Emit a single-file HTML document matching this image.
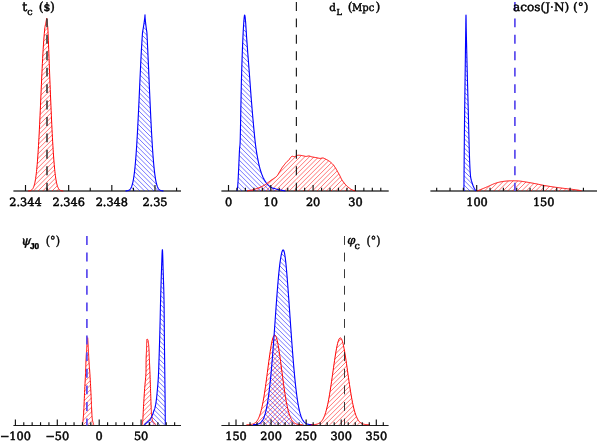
<!DOCTYPE html>
<html><head><meta charset="utf-8"><title>posterior PDFs</title>
<style>
html,body{margin:0;padding:0;background:#fff;}
svg{display:block;will-change:transform;font-family:"DejaVu Serif","Liberation Serif",serif;fill:#000;}
text{stroke:#000;stroke-width:0.5px;text-rendering:geometricPrecision;}
.tt text{stroke-width:0.42px;}
</style></head>
<body>
<svg width="598" height="441" viewBox="0 0 598 441">
<defs>
<clipPath id="cr"><path d="M28.10,190.94 L28.32,190.93 L28.54,190.91 L28.76,190.90 L28.99,190.87 L29.21,190.85 L29.43,190.81 L29.65,190.78 L29.87,190.73 L30.09,190.68 L30.31,190.62 L30.54,190.55 L30.76,190.46 L30.98,190.36 L31.20,190.24 L31.42,190.11 L31.64,189.95 L31.86,189.77 L32.08,189.56 L32.31,189.32 L32.53,189.04 L32.75,188.73 L32.97,188.37 L33.19,187.96 L33.41,187.50 L33.63,186.98 L33.86,186.39 L34.08,185.73 L34.30,184.98 L34.52,184.15 L34.74,183.23 L34.96,182.21 L35.18,181.07 L35.41,179.81 L35.63,178.43 L35.85,176.92 L36.07,175.26 L36.29,173.45 L36.51,171.48 L36.73,169.34 L36.96,167.03 L37.18,164.55 L37.40,161.88 L37.62,159.02 L37.84,155.96 L38.06,152.72 L38.28,149.28 L38.51,145.64 L38.73,141.81 L38.95,137.80 L39.17,133.60 L39.39,129.23 L39.61,124.69 L39.84,120.00 L40.06,115.17 L40.28,110.22 L40.50,105.16 L40.73,100.01 L40.96,94.80 L41.18,89.55 L41.42,84.28 L41.65,79.02 L41.89,73.80 L42.13,68.64 L42.38,63.58 L42.64,58.65 L42.90,53.88 L43.17,49.29 L43.45,44.92 L43.73,40.79 L44.02,36.94 L44.32,33.39 L44.62,30.17 L44.91,27.29 L44.95,26.94 L45.09,26.32 L45.22,25.70 L45.35,25.08 L45.48,24.47 L45.61,23.85 L45.74,23.23 L45.86,22.62 L45.98,22.00 L46.11,21.38 L46.23,20.77 L46.34,20.15 L46.45,19.53 L46.56,18.92 L46.65,18.30 L46.65,18.30 L46.69,18.92 L46.75,19.53 L46.82,20.15 L46.89,20.77 L46.97,21.38 L47.05,22.00 L47.13,22.62 L47.22,23.23 L47.30,23.85 L47.39,24.47 L47.49,25.08 L47.58,25.70 L47.68,26.32 L47.77,26.94 L47.79,27.29 L47.94,30.17 L48.08,33.39 L48.23,36.94 L48.38,40.79 L48.54,44.92 L48.71,49.29 L48.88,53.88 L49.06,58.65 L49.24,63.58 L49.44,68.64 L49.64,73.80 L49.84,79.02 L50.05,84.28 L50.26,89.55 L50.48,94.80 L50.69,100.01 L50.91,105.16 L51.13,110.22 L51.35,115.17 L51.57,120.00 L51.79,124.69 L52.01,129.23 L52.23,133.60 L52.45,137.80 L52.67,141.81 L52.90,145.64 L53.12,149.28 L53.34,152.72 L53.56,155.96 L53.78,159.02 L54.00,161.88 L54.22,164.55 L54.44,167.03 L54.67,169.34 L54.89,171.48 L55.11,173.45 L55.33,175.26 L55.55,176.92 L55.77,178.43 L55.99,179.81 L56.22,181.07 L56.44,182.21 L56.66,183.23 L56.88,184.15 L57.10,184.98 L57.32,185.73 L57.54,186.39 L57.77,186.98 L57.99,187.50 L58.21,187.96 L58.43,188.37 L58.65,188.73 L58.87,189.04 L59.09,189.32 L59.32,189.56 L59.54,189.77 L59.76,189.95 L59.98,190.11 L60.20,190.24 L60.42,190.36 L60.64,190.46 L60.86,190.55 L61.09,190.62 L61.31,190.68 L61.53,190.73 L61.75,190.78 L61.97,190.81 L62.19,190.85 L62.41,190.87 L62.64,190.90 L62.86,190.91 L63.08,190.93 L63.30,190.94 L63.30,191.00 L28.10,191.00 Z"/>
<path d="M247.00,191.00 L247.64,190.88 L248.54,190.71 L249.59,190.51 L250.67,190.29 L251.67,190.08 L252.51,189.87 L253.27,189.67 L254.00,189.45 L254.71,189.23 L255.43,188.99 L256.19,188.74 L256.99,188.46 L257.80,188.17 L258.62,187.87 L259.43,187.56 L260.20,187.24 L260.94,186.92 L261.65,186.60 L262.35,186.27 L263.03,185.93 L263.68,185.58 L264.29,185.23 L264.85,184.89 L265.38,184.55 L265.91,184.19 L266.46,183.79 L267.07,183.35 L267.76,182.83 L268.50,182.25 L269.26,181.65 L270.01,181.06 L270.72,180.53 L271.36,180.08 L271.96,179.70 L272.53,179.35 L273.08,179.01 L273.64,178.65 L274.20,178.26 L274.77,177.86 L275.35,177.46 L275.91,177.04 L276.46,176.56 L276.99,176.02 L277.48,175.38 L277.95,174.66 L278.40,173.90 L278.85,173.11 L279.31,172.32 L279.78,171.53 L280.26,170.72 L280.75,169.89 L281.23,169.07 L281.72,168.28 L282.20,167.55 L282.69,166.86 L283.19,166.20 L283.68,165.57 L284.16,164.97 L284.63,164.39 L285.08,163.83 L285.52,163.28 L285.96,162.76 L286.38,162.27 L286.79,161.82 L287.18,161.43 L287.55,161.11 L287.91,160.84 L288.26,160.58 L288.60,160.31 L288.93,159.97 L289.24,159.55 L289.54,159.08 L289.83,158.59 L290.11,158.12 L290.41,157.71 L290.71,157.36 L291.01,157.05 L291.31,156.77 L291.62,156.54 L291.96,156.37 L292.32,156.28 L292.72,156.32 L293.13,156.44 L293.57,156.59 L294.01,156.70 L294.47,156.70 L294.95,156.56 L295.44,156.30 L295.95,156.00 L296.46,155.70 L296.98,155.47 L297.49,155.34 L298.00,155.27 L298.52,155.24 L299.04,155.24 L299.57,155.27 L300.10,155.31 L300.65,155.37 L301.21,155.46 L301.77,155.56 L302.33,155.67 L302.89,155.78 L303.45,155.89 L304.01,156.03 L304.57,156.17 L305.13,156.30 L305.68,156.38 L306.24,156.40 L306.80,156.33 L307.36,156.21 L307.91,156.09 L308.47,156.01 L309.03,156.00 L309.57,156.10 L310.10,156.26 L310.63,156.46 L311.19,156.66 L311.79,156.85 L312.45,157.00 L313.17,157.13 L313.93,157.25 L314.70,157.38 L315.47,157.51 L316.22,157.64 L316.99,157.81 L317.76,158.00 L318.52,158.17 L319.26,158.31 L319.95,158.40 L320.57,158.38 L321.14,158.28 L321.68,158.14 L322.21,158.02 L322.75,157.98 L323.30,158.06 L323.86,158.24 L324.42,158.48 L324.97,158.76 L325.53,159.06 L326.09,159.35 L326.66,159.64 L327.23,159.94 L327.80,160.26 L328.36,160.59 L328.89,160.93 L329.39,161.27 L329.88,161.63 L330.35,162.00 L330.80,162.38 L331.24,162.77 L331.67,163.16 L332.07,163.53 L332.45,163.89 L332.82,164.28 L333.21,164.71 L333.61,165.21 L334.05,165.80 L334.50,166.46 L334.96,167.16 L335.42,167.87 L335.85,168.56 L336.26,169.23 L336.64,169.87 L337.01,170.52 L337.37,171.16 L337.73,171.82 L338.10,172.48 L338.47,173.15 L338.84,173.83 L339.22,174.52 L339.59,175.21 L339.96,175.92 L340.31,176.64 L340.64,177.36 L340.98,178.09 L341.34,178.84 L341.76,179.61 L342.28,180.42 L342.88,181.30 L343.55,182.20 L344.25,183.10 L344.94,183.94 L345.58,184.69 L346.19,185.35 L346.79,185.94 L347.37,186.49 L347.96,186.99 L348.55,187.48 L349.16,187.96 L349.77,188.41 L350.38,188.84 L350.99,189.24 L351.61,189.60 L352.24,189.92 L352.95,190.21 L353.68,190.46 L354.38,190.69 L354.98,190.86 L355.40,191.00 L355.40,191.00 L247.00,191.00 Z"/>
<path d="M477.00,191.00 L477.20,190.92 L477.44,190.83 L477.71,190.72 L478.02,190.60 L478.35,190.46 L478.71,190.32 L479.08,190.17 L479.48,190.02 L479.88,189.86 L480.29,189.69 L480.70,189.53 L481.11,189.36 L481.52,189.20 L481.92,189.03 L482.31,188.87 L482.71,188.71 L483.11,188.54 L483.53,188.38 L483.95,188.20 L484.37,188.03 L484.80,187.85 L485.23,187.67 L485.66,187.49 L486.10,187.31 L486.53,187.13 L486.96,186.94 L487.39,186.76 L487.82,186.58 L488.24,186.39 L488.66,186.21 L489.09,186.01 L489.51,185.81 L489.93,185.61 L490.35,185.41 L490.77,185.21 L491.20,185.01 L491.62,184.82 L492.04,184.62 L492.46,184.43 L492.88,184.25 L493.31,184.07 L493.73,183.90 L494.15,183.74 L494.57,183.59 L494.98,183.44 L495.40,183.30 L495.81,183.16 L496.22,183.02 L496.63,182.89 L497.04,182.76 L497.46,182.64 L497.88,182.52 L498.30,182.41 L498.73,182.30 L499.17,182.19 L499.61,182.09 L500.07,181.99 L500.53,181.89 L501.01,181.80 L501.50,181.71 L502.00,181.63 L502.50,181.55 L503.01,181.47 L503.52,181.40 L504.03,181.33 L504.54,181.26 L505.04,181.20 L505.54,181.15 L506.02,181.10 L506.50,181.05 L506.97,181.00 L507.42,180.96 L507.86,180.93 L508.30,180.90 L508.73,180.88 L509.15,180.86 L509.57,180.84 L509.99,180.83 L510.40,180.82 L510.81,180.81 L511.22,180.81 L511.63,180.80 L512.05,180.80 L512.46,180.80 L512.88,180.80 L513.30,180.80 L513.72,180.80 L514.13,180.80 L514.54,180.80 L514.95,180.81 L515.36,180.81 L515.78,180.82 L516.19,180.83 L516.61,180.85 L517.03,180.86 L517.45,180.89 L517.88,180.91 L518.32,180.94 L518.77,180.98 L519.23,181.02 L519.69,181.07 L520.15,181.12 L520.61,181.18 L521.07,181.24 L521.54,181.30 L522.02,181.37 L522.50,181.44 L522.99,181.52 L523.49,181.59 L524.00,181.68 L524.52,181.76 L525.06,181.85 L525.60,181.94 L526.16,182.03 L526.74,182.12 L527.32,182.22 L527.92,182.32 L528.53,182.43 L529.16,182.53 L529.79,182.64 L530.43,182.76 L531.07,182.87 L531.73,182.99 L532.38,183.11 L533.05,183.23 L533.71,183.36 L534.38,183.48 L535.05,183.61 L535.72,183.74 L536.40,183.87 L537.09,184.01 L537.79,184.16 L538.49,184.30 L539.20,184.45 L539.91,184.59 L540.63,184.74 L541.34,184.89 L542.06,185.03 L542.77,185.18 L543.48,185.32 L544.19,185.45 L544.90,185.58 L545.60,185.71 L546.31,185.83 L547.01,185.95 L547.71,186.07 L548.42,186.19 L549.12,186.30 L549.82,186.42 L550.53,186.53 L551.23,186.64 L551.93,186.74 L552.64,186.85 L553.34,186.96 L554.05,187.06 L554.75,187.16 L555.45,187.27 L556.16,187.36 L556.86,187.46 L557.56,187.56 L558.27,187.65 L558.97,187.74 L559.67,187.83 L560.38,187.92 L561.08,188.01 L561.78,188.10 L562.49,188.19 L563.19,188.27 L563.89,188.36 L564.60,188.45 L565.30,188.54 L566.02,188.63 L566.75,188.71 L567.49,188.80 L568.23,188.89 L568.98,188.97 L569.72,189.06 L570.45,189.15 L571.18,189.23 L571.89,189.31 L572.59,189.40 L573.26,189.48 L573.91,189.56 L574.53,189.64 L575.12,189.72 L575.70,189.80 L576.27,189.88 L576.84,189.96 L577.38,190.04 L577.92,190.12 L578.43,190.20 L578.93,190.28 L579.39,190.36 L579.83,190.43 L580.24,190.50 L580.62,190.56 L580.95,190.61 L581.25,190.66 L581.50,190.70 L581.50,191.00 L477.00,191.00 Z"/>
<path d="M82.40,424.75 L82.43,424.60 L82.46,424.44 L82.50,424.27 L82.54,424.08 L82.59,423.86 L82.64,423.62 L82.69,423.34 L82.75,423.03 L82.80,422.66 L82.86,422.25 L82.92,421.78 L82.98,421.25 L83.03,420.66 L83.09,420.01 L83.15,419.32 L83.21,418.58 L83.28,417.80 L83.34,416.96 L83.41,416.08 L83.48,415.16 L83.54,414.19 L83.61,413.17 L83.68,412.11 L83.74,411.00 L83.81,409.85 L83.87,408.63 L83.94,407.34 L84.00,405.97 L84.06,404.55 L84.12,403.08 L84.19,401.58 L84.25,400.05 L84.32,398.52 L84.38,396.98 L84.45,395.45 L84.51,393.93 L84.58,392.45 L84.65,391.00 L84.72,389.53 L84.80,388.04 L84.87,386.54 L84.95,385.04 L85.03,383.54 L85.10,382.05 L85.18,380.58 L85.25,379.13 L85.33,377.71 L85.39,376.32 L85.46,374.98 L85.51,373.68 L85.57,372.41 L85.61,371.17 L85.66,369.96 L85.70,368.77 L85.73,367.60 L85.77,366.46 L85.80,365.35 L85.84,364.27 L85.87,363.21 L85.91,362.17 L85.95,361.16 L85.99,360.18 L86.04,359.23 L86.08,358.30 L86.13,357.41 L86.18,356.54 L86.23,355.70 L86.29,354.89 L86.34,354.10 L86.39,353.32 L86.44,352.57 L86.48,351.84 L86.53,351.13 L86.57,350.43 L86.61,349.75 L86.65,349.09 L86.69,348.45 L86.72,347.84 L86.75,347.25 L86.78,346.68 L86.80,346.13 L86.83,345.59 L86.86,345.06 L86.89,344.54 L86.92,344.03 L86.96,343.53 L87.00,343.03 L87.04,342.51 L87.08,341.96 L87.13,341.38 L87.18,340.80 L87.23,340.23 L87.29,339.67 L87.34,339.16 L87.39,338.69 L87.44,338.29 L87.49,337.97 L87.54,337.74 L87.58,337.62 L87.62,337.62 L87.66,337.74 L87.69,337.97 L87.73,338.29 L87.76,338.69 L87.79,339.16 L87.82,339.67 L87.85,340.23 L87.88,340.80 L87.91,341.38 L87.94,341.96 L87.97,342.51 L88.00,343.03 L88.03,343.53 L88.07,344.03 L88.10,344.54 L88.13,345.06 L88.16,345.59 L88.19,346.13 L88.22,346.68 L88.25,347.25 L88.28,347.84 L88.32,348.45 L88.35,349.09 L88.39,349.75 L88.42,350.43 L88.46,351.13 L88.49,351.84 L88.52,352.57 L88.56,353.32 L88.59,354.10 L88.63,354.89 L88.67,355.70 L88.71,356.54 L88.75,357.41 L88.80,358.30 L88.85,359.23 L88.91,360.18 L88.98,361.16 L89.05,362.17 L89.12,363.21 L89.20,364.27 L89.28,365.35 L89.37,366.46 L89.45,367.60 L89.54,368.77 L89.63,369.96 L89.71,371.17 L89.80,372.41 L89.88,373.68 L89.96,374.98 L90.04,376.34 L90.13,377.75 L90.21,379.20 L90.30,380.67 L90.38,382.17 L90.46,383.68 L90.55,385.19 L90.63,386.69 L90.70,388.17 L90.78,389.63 L90.85,391.05 L90.92,392.43 L90.99,393.80 L91.05,395.17 L91.11,396.53 L91.16,397.89 L91.22,399.24 L91.27,400.56 L91.33,401.86 L91.38,403.14 L91.43,404.38 L91.48,405.58 L91.54,406.75 L91.59,407.86 L91.65,408.94 L91.70,409.98 L91.75,410.99 L91.79,411.97 L91.84,412.92 L91.89,413.83 L91.94,414.72 L91.99,415.56 L92.05,416.38 L92.11,417.16 L92.18,417.90 L92.25,418.62 L92.34,419.29 L92.44,419.94 L92.55,420.55 L92.67,421.13 L92.81,421.67 L92.94,422.19 L93.07,422.66 L93.20,423.11 L93.33,423.51 L93.44,423.88 L93.55,424.21 L93.63,424.50 L93.70,424.75 L93.70,424.75 L82.40,424.75 Z"/>
<path d="M142.20,424.75 L142.23,424.52 L142.27,424.29 L142.32,424.04 L142.38,423.74 L142.44,423.40 L142.50,423.00 L142.56,422.51 L142.63,421.93 L142.70,421.24 L142.77,420.43 L142.84,419.48 L142.90,418.38 L142.97,417.14 L143.04,415.78 L143.12,414.34 L143.19,412.82 L143.27,411.25 L143.35,409.66 L143.43,408.06 L143.52,406.47 L143.60,404.92 L143.70,403.36 L143.80,401.75 L143.90,400.10 L144.00,398.43 L144.11,396.75 L144.21,395.07 L144.32,393.40 L144.43,391.77 L144.54,390.17 L144.65,388.63 L144.77,387.15 L144.89,385.73 L145.01,384.34 L145.14,382.99 L145.27,381.67 L145.40,380.37 L145.52,379.08 L145.64,377.79 L145.74,376.49 L145.83,375.19 L145.91,373.86 L145.96,372.50 L146.00,371.12 L146.03,369.73 L146.04,368.33 L146.05,366.93 L146.05,365.56 L146.06,364.21 L146.06,362.89 L146.07,361.63 L146.09,360.43 L146.12,359.29 L146.15,358.19 L146.19,357.13 L146.23,356.12 L146.27,355.14 L146.32,354.19 L146.36,353.28 L146.40,352.39 L146.44,351.53 L146.47,350.69 L146.50,349.87 L146.53,349.08 L146.55,348.31 L146.58,347.56 L146.59,346.85 L146.61,346.16 L146.63,345.50 L146.64,344.87 L146.66,344.27 L146.68,343.70 L146.69,343.16 L146.71,342.66 L146.73,342.18 L146.74,341.72 L146.75,341.30 L146.76,340.90 L146.77,340.54 L146.79,340.21 L146.81,339.92 L146.84,339.66 L146.87,339.44 L146.91,339.27 L146.96,339.14 L147.01,339.05 L147.08,339.01 L147.15,339.01 L147.22,339.04 L147.29,339.09 L147.37,339.17 L147.44,339.26 L147.51,339.36 L147.58,339.47 L147.65,339.58 L147.72,339.70 L147.79,339.83 L147.86,339.97 L147.93,340.14 L148.00,340.32 L148.07,340.53 L148.13,340.77 L148.20,341.04 L148.26,341.35 L148.31,341.70 L148.37,342.09 L148.42,342.52 L148.47,342.99 L148.52,343.48 L148.57,344.01 L148.62,344.55 L148.66,345.12 L148.70,345.70 L148.75,346.28 L148.79,346.88 L148.83,347.47 L148.88,348.09 L148.92,348.72 L148.96,349.37 L149.00,350.04 L149.03,350.71 L149.07,351.40 L149.11,352.10 L149.14,352.80 L149.18,353.51 L149.21,354.23 L149.24,354.93 L149.27,355.63 L149.30,356.32 L149.32,357.03 L149.35,357.75 L149.37,358.49 L149.40,359.26 L149.43,360.08 L149.46,360.94 L149.49,361.85 L149.53,362.81 L149.57,363.80 L149.62,364.81 L149.66,365.85 L149.71,366.94 L149.76,368.06 L149.81,369.24 L149.86,370.47 L149.91,371.76 L149.97,373.11 L150.02,374.54 L150.07,376.07 L150.13,377.70 L150.19,379.42 L150.24,381.18 L150.30,382.99 L150.36,384.81 L150.42,386.62 L150.48,388.41 L150.54,390.16 L150.59,391.83 L150.65,393.46 L150.71,395.11 L150.77,396.76 L150.82,398.40 L150.88,400.02 L150.94,401.60 L150.99,403.13 L151.05,404.60 L151.11,405.99 L151.17,407.29 L151.22,408.49 L151.28,409.61 L151.33,410.65 L151.37,411.62 L151.42,412.52 L151.47,413.37 L151.52,414.17 L151.58,414.92 L151.64,415.63 L151.72,416.31 L151.80,416.97 L151.88,417.58 L151.96,418.13 L152.04,418.63 L152.13,419.08 L152.22,419.50 L152.32,419.88 L152.44,420.25 L152.57,420.60 L152.72,420.95 L152.90,421.31 L153.10,421.68 L153.35,422.05 L153.65,422.42 L153.97,422.79 L154.31,423.15 L154.66,423.48 L154.99,423.80 L155.31,424.09 L155.59,424.35 L155.82,424.57 L156.00,424.75 L156.00,424.75 L142.20,424.75 Z"/>
<path d="M246.50,424.72 L246.97,424.71 L247.45,424.70 L247.92,424.68 L248.40,424.66 L248.87,424.64 L249.34,424.61 L249.82,424.57 L250.29,424.53 L250.77,424.47 L251.24,424.40 L251.71,424.31 L252.19,424.20 L252.66,424.07 L253.14,423.92 L253.61,423.73 L254.08,423.50 L254.56,423.24 L255.03,422.92 L255.51,422.55 L255.98,422.11 L256.45,421.60 L256.93,421.01 L257.40,420.33 L257.87,419.55 L258.35,418.66 L258.82,417.64 L259.30,416.50 L259.77,415.22 L260.24,413.78 L260.72,412.19 L261.19,410.43 L261.67,408.50 L262.14,406.39 L262.61,404.10 L263.09,401.63 L263.56,398.98 L264.04,396.16 L264.51,393.17 L264.98,390.03 L265.46,386.74 L265.93,383.34 L266.41,379.83 L266.88,376.24 L267.35,372.60 L267.83,368.94 L268.30,365.30 L268.78,361.70 L269.25,358.18 L269.72,354.79 L270.20,351.56 L270.67,348.52 L271.15,345.71 L271.62,343.17 L272.09,340.93 L272.57,339.01 L273.04,337.45 L273.52,336.26 L273.99,335.46 L274.46,335.05 L274.94,335.05 L275.41,335.46 L275.88,336.26 L276.36,337.45 L276.83,339.01 L277.31,340.93 L277.78,343.17 L278.25,345.71 L278.73,348.52 L279.20,351.56 L279.68,354.79 L280.15,358.18 L280.62,361.70 L281.10,365.30 L281.57,368.94 L282.05,372.60 L282.52,376.24 L282.99,379.83 L283.47,383.34 L283.94,386.74 L284.42,390.03 L284.89,393.17 L285.36,396.16 L285.84,398.98 L286.31,401.63 L286.79,404.10 L287.26,406.39 L287.73,408.50 L288.21,410.43 L288.68,412.19 L289.16,413.78 L289.63,415.22 L290.10,416.50 L290.58,417.64 L291.05,418.66 L291.53,419.55 L292.00,420.33 L292.47,421.01 L292.95,421.60 L293.42,422.11 L293.89,422.55 L294.37,422.92 L294.84,423.24 L295.32,423.50 L295.79,423.73 L296.26,423.92 L296.74,424.07 L297.21,424.20 L297.69,424.31 L298.16,424.40 L298.63,424.47 L299.11,424.53 L299.58,424.57 L300.06,424.61 L300.53,424.64 L301.00,424.66 L301.48,424.68 L301.95,424.70 L302.43,424.71 L302.90,424.72 L302.90,424.75 L246.50,424.75 Z"/>
<path d="M310.70,424.72 L311.20,424.71 L311.69,424.70 L312.19,424.69 L312.69,424.67 L313.19,424.64 L313.68,424.62 L314.18,424.58 L314.68,424.53 L315.18,424.48 L315.67,424.41 L316.17,424.32 L316.67,424.22 L317.17,424.09 L317.66,423.94 L318.16,423.76 L318.66,423.54 L319.16,423.28 L319.65,422.98 L320.15,422.62 L320.65,422.19 L321.15,421.70 L321.64,421.13 L322.14,420.47 L322.64,419.72 L323.14,418.85 L323.63,417.87 L324.13,416.77 L324.63,415.52 L325.13,414.14 L325.62,412.60 L326.12,410.89 L326.62,409.02 L327.12,406.98 L327.61,404.77 L328.11,402.38 L328.61,399.82 L329.11,397.08 L329.60,394.19 L330.10,391.15 L330.60,387.97 L331.10,384.67 L331.59,381.28 L332.09,377.81 L332.59,374.28 L333.09,370.75 L333.58,367.22 L334.08,363.74 L334.58,360.34 L335.08,357.05 L335.57,353.92 L336.07,350.98 L336.57,348.27 L337.07,345.81 L337.56,343.64 L338.06,341.78 L338.56,340.27 L339.06,339.12 L339.55,338.34 L340.05,337.95 L340.55,337.95 L341.05,338.34 L341.54,339.12 L342.04,340.27 L342.54,341.78 L343.04,343.64 L343.53,345.81 L344.03,348.27 L344.53,350.98 L345.03,353.92 L345.52,357.05 L346.02,360.34 L346.52,363.74 L347.02,367.22 L347.51,370.75 L348.01,374.28 L348.51,377.81 L349.01,381.28 L349.50,384.67 L350.00,387.97 L350.50,391.15 L351.00,394.19 L351.49,397.08 L351.99,399.82 L352.49,402.38 L352.99,404.77 L353.48,406.98 L353.98,409.02 L354.48,410.89 L354.98,412.60 L355.47,414.14 L355.97,415.52 L356.47,416.77 L356.97,417.87 L357.46,418.85 L357.96,419.72 L358.46,420.47 L358.96,421.13 L359.45,421.70 L359.95,422.19 L360.45,422.62 L360.95,422.98 L361.44,423.28 L361.94,423.54 L362.44,423.76 L362.94,423.94 L363.43,424.09 L363.93,424.22 L364.43,424.32 L364.93,424.41 L365.42,424.48 L365.92,424.53 L366.42,424.58 L366.92,424.62 L367.41,424.64 L367.91,424.67 L368.41,424.69 L368.91,424.70 L369.40,424.71 L369.90,424.72 L369.90,424.75 L310.70,424.75 Z"/></clipPath>
<clipPath id="cb"><path d="M125.50,190.94 L125.74,190.93 L125.98,190.91 L126.22,190.89 L126.46,190.87 L126.69,190.84 L126.93,190.81 L127.17,190.77 L127.41,190.73 L127.65,190.67 L127.89,190.61 L128.13,190.54 L128.37,190.45 L128.61,190.35 L128.85,190.23 L129.08,190.09 L129.32,189.93 L129.56,189.74 L129.80,189.53 L130.04,189.29 L130.28,189.01 L130.52,188.68 L130.76,188.32 L131.00,187.90 L131.24,187.43 L131.47,186.90 L131.71,186.29 L131.95,185.62 L132.19,184.86 L132.43,184.02 L132.67,183.07 L132.91,182.03 L133.15,180.87 L133.39,179.59 L133.63,178.18 L133.86,176.63 L134.10,174.94 L134.34,173.09 L134.58,171.08 L134.82,168.90 L135.06,166.55 L135.30,164.01 L135.54,161.29 L135.78,158.37 L136.02,155.25 L136.25,151.94 L136.49,148.43 L136.73,144.72 L136.97,140.82 L137.21,136.72 L137.45,132.44 L137.69,127.98 L137.93,123.35 L138.17,118.56 L138.41,113.63 L138.65,108.58 L138.89,103.42 L139.13,98.17 L139.37,92.85 L139.61,87.49 L139.85,82.11 L140.09,76.75 L140.34,71.42 L140.59,66.16 L140.84,61.00 L141.09,55.97 L141.35,51.10 L141.62,46.42 L141.88,41.96 L142.15,37.75 L142.43,33.82 L142.53,32.42 L142.76,31.16 L142.97,29.90 L143.19,28.64 L143.39,27.39 L143.59,26.13 L143.79,24.87 L143.98,23.61 L144.16,22.35 L144.33,21.09 L144.49,19.83 L144.65,18.58 L144.79,17.32 L144.91,16.06 L145.00,14.80 L145.00,14.80 L145.03,16.06 L145.10,17.32 L145.19,18.58 L145.30,19.83 L145.42,21.09 L145.55,22.35 L145.69,23.61 L145.84,24.87 L145.99,26.13 L146.16,27.39 L146.33,28.64 L146.51,29.90 L146.70,31.16 L146.90,32.42 L146.97,33.82 L147.17,37.75 L147.38,41.96 L147.59,46.42 L147.81,51.10 L148.02,55.97 L148.25,61.00 L148.48,66.16 L148.70,71.42 L148.94,76.75 L149.17,82.11 L149.41,87.49 L149.64,92.85 L149.88,98.17 L150.12,103.42 L150.36,108.58 L150.60,113.63 L150.83,118.56 L151.07,123.35 L151.31,127.98 L151.55,132.44 L151.79,136.72 L152.03,140.82 L152.27,144.72 L152.51,148.43 L152.75,151.94 L152.98,155.25 L153.22,158.37 L153.46,161.29 L153.70,164.01 L153.94,166.55 L154.18,168.90 L154.42,171.08 L154.66,173.09 L154.90,174.94 L155.14,176.63 L155.37,178.18 L155.61,179.59 L155.85,180.87 L156.09,182.03 L156.33,183.07 L156.57,184.02 L156.81,184.86 L157.05,185.62 L157.29,186.29 L157.53,186.90 L157.76,187.43 L158.00,187.90 L158.24,188.32 L158.48,188.68 L158.72,189.01 L158.96,189.29 L159.20,189.53 L159.44,189.74 L159.68,189.93 L159.92,190.09 L160.15,190.23 L160.39,190.35 L160.63,190.45 L160.87,190.54 L161.11,190.61 L161.35,190.67 L161.59,190.73 L161.83,190.77 L162.07,190.81 L162.31,190.84 L162.54,190.87 L162.78,190.89 L163.02,190.91 L163.26,190.93 L163.50,190.94 L163.50,191.00 L125.50,191.00 Z"/>
<path d="M237.00,191.00 L237.05,190.68 L237.11,190.32 L237.18,189.92 L237.26,189.45 L237.35,188.92 L237.44,188.32 L237.54,187.62 L237.63,186.84 L237.72,185.95 L237.80,184.95 L237.88,183.82 L237.96,182.58 L238.04,181.23 L238.12,179.78 L238.20,178.26 L238.28,176.66 L238.36,175.01 L238.44,173.31 L238.52,171.58 L238.61,169.82 L238.70,167.95 L238.79,165.93 L238.88,163.80 L238.97,161.62 L239.07,159.41 L239.16,157.24 L239.25,155.15 L239.34,153.17 L239.43,151.37 L239.51,149.78 L239.59,148.57 L239.66,147.72 L239.73,147.12 L239.80,146.64 L239.87,146.16 L239.93,145.56 L240.00,144.71 L240.07,143.50 L240.14,141.79 L240.22,139.48 L240.29,136.49 L240.37,132.90 L240.46,128.86 L240.54,124.51 L240.63,119.97 L240.71,115.38 L240.79,110.87 L240.87,106.58 L240.95,102.64 L241.02,99.18 L241.08,96.08 L241.14,93.23 L241.20,90.58 L241.25,88.07 L241.30,85.65 L241.36,83.28 L241.41,80.90 L241.48,78.45 L241.55,75.89 L241.62,73.16 L241.71,70.29 L241.80,67.32 L241.90,64.27 L242.00,61.20 L242.11,58.13 L242.22,55.10 L242.32,52.16 L242.43,49.32 L242.53,46.64 L242.64,44.14 L242.74,41.75 L242.84,39.44 L242.94,37.22 L243.04,35.09 L243.14,33.05 L243.24,31.12 L243.34,29.28 L243.44,27.55 L243.54,25.92 L243.64,24.40 L243.74,22.94 L243.84,21.54 L243.94,20.22 L244.04,19.01 L244.14,17.92 L244.24,16.98 L244.34,16.20 L244.44,15.61 L244.54,15.22 L244.65,15.05 L244.74,15.11 L244.84,15.37 L244.94,15.81 L245.04,16.42 L245.13,17.19 L245.23,18.08 L245.33,19.09 L245.44,20.19 L245.55,21.38 L245.65,22.63 L245.76,23.96 L245.85,25.36 L245.95,26.87 L246.05,28.49 L246.16,30.24 L246.27,32.14 L246.40,34.19 L246.55,36.43 L246.72,38.85 L246.91,41.48 L247.13,44.41 L247.37,47.58 L247.62,50.95 L247.89,54.47 L248.17,58.09 L248.46,61.77 L248.74,65.45 L249.02,69.08 L249.29,72.62 L249.56,76.05 L249.81,79.47 L250.06,82.88 L250.32,86.30 L250.57,89.72 L250.82,93.14 L251.08,96.55 L251.34,99.97 L251.62,103.39 L251.90,106.80 L252.19,110.25 L252.50,113.82 L252.82,117.47 L253.15,121.15 L253.48,124.82 L253.81,128.42 L254.15,131.91 L254.48,135.23 L254.80,138.35 L255.11,141.20 L255.41,143.77 L255.70,146.09 L255.98,148.20 L256.26,150.13 L256.54,151.91 L256.81,153.57 L257.08,155.14 L257.36,156.65 L257.64,158.14 L257.93,159.62 L258.22,161.11 L258.50,162.51 L258.79,163.83 L259.07,165.09 L259.36,166.30 L259.65,167.46 L259.95,168.57 L260.27,169.66 L260.59,170.73 L260.93,171.79 L261.28,172.84 L261.65,173.86 L262.02,174.85 L262.41,175.81 L262.80,176.75 L263.21,177.65 L263.63,178.51 L264.05,179.34 L264.49,180.14 L264.93,180.89 L265.39,181.60 L265.85,182.28 L266.33,182.92 L266.82,183.52 L267.31,184.09 L267.82,184.62 L268.33,185.12 L268.86,185.60 L269.40,186.04 L269.94,186.46 L270.49,186.84 L271.03,187.17 L271.57,187.46 L272.12,187.72 L272.68,187.95 L273.26,188.17 L273.87,188.37 L274.52,188.57 L275.21,188.77 L275.96,188.99 L276.81,189.22 L277.79,189.45 L278.85,189.69 L279.97,189.93 L281.10,190.15 L282.19,190.36 L283.22,190.56 L284.14,190.73 L284.92,190.88 L285.50,191.00 L285.50,191.00 L237.00,191.00 Z"/>
<path d="M463.90,191.00 L463.91,189.78 L463.92,188.25 L463.94,186.44 L463.96,184.41 L463.98,182.21 L464.00,179.89 L464.02,177.49 L464.04,175.06 L464.06,172.66 L464.08,170.33 L464.10,168.12 L464.12,166.03 L464.13,163.99 L464.15,161.99 L464.16,160.00 L464.18,158.00 L464.19,155.95 L464.21,153.85 L464.23,151.65 L464.25,149.35 L464.27,146.90 L464.30,144.30 L464.33,141.52 L464.36,138.58 L464.39,135.50 L464.42,132.30 L464.46,129.01 L464.49,125.65 L464.53,122.25 L464.57,118.81 L464.61,115.37 L464.65,111.94 L464.69,108.56 L464.73,105.20 L464.78,101.81 L464.82,98.40 L464.87,94.97 L464.91,91.53 L464.96,88.07 L465.00,84.60 L465.05,81.14 L465.10,77.67 L465.14,74.21 L465.19,70.76 L465.24,67.28 L465.28,63.66 L465.33,59.95 L465.38,56.20 L465.43,52.46 L465.47,48.77 L465.52,45.17 L465.57,41.72 L465.61,38.46 L465.65,35.44 L465.69,32.70 L465.73,30.23 L465.76,27.85 L465.79,25.59 L465.82,23.48 L465.84,21.54 L465.87,19.80 L465.89,18.29 L465.92,17.04 L465.94,16.08 L465.97,15.43 L465.99,15.12 L466.02,15.18 L466.04,15.61 L466.06,16.36 L466.08,17.43 L466.10,18.77 L466.12,20.35 L466.14,22.16 L466.16,24.16 L466.20,26.33 L466.23,28.63 L466.28,31.04 L466.33,33.58 L466.40,36.42 L466.47,39.52 L466.55,42.85 L466.63,46.35 L466.71,49.99 L466.80,53.70 L466.89,57.46 L466.98,61.20 L467.07,64.88 L467.16,68.46 L467.25,71.92 L467.34,75.40 L467.43,78.91 L467.52,82.43 L467.61,85.96 L467.71,89.47 L467.80,92.96 L467.89,96.41 L467.99,99.81 L468.07,103.15 L468.16,106.41 L468.24,109.58 L468.32,112.74 L468.40,115.88 L468.47,118.99 L468.55,122.04 L468.62,125.04 L468.69,127.97 L468.76,130.81 L468.83,133.55 L468.90,136.17 L468.96,138.67 L469.03,141.03 L469.09,143.25 L469.14,145.35 L469.20,147.33 L469.25,149.22 L469.30,151.01 L469.35,152.73 L469.40,154.38 L469.46,155.98 L469.51,157.54 L469.56,159.07 L469.62,160.59 L469.68,162.06 L469.74,163.50 L469.81,164.88 L469.87,166.21 L469.93,167.48 L470.00,168.70 L470.06,169.85 L470.13,170.94 L470.19,171.96 L470.26,172.91 L470.32,173.78 L470.38,174.55 L470.44,175.22 L470.50,175.81 L470.56,176.33 L470.62,176.79 L470.68,177.21 L470.74,177.60 L470.81,177.97 L470.87,178.34 L470.95,178.71 L471.02,179.11 L471.10,179.50 L471.19,179.86 L471.27,180.20 L471.37,180.52 L471.46,180.83 L471.55,181.13 L471.65,181.42 L471.74,181.70 L471.84,181.99 L471.93,182.27 L472.02,182.57 L472.11,182.86 L472.20,183.15 L472.29,183.43 L472.38,183.71 L472.47,183.99 L472.56,184.26 L472.65,184.53 L472.74,184.79 L472.83,185.05 L472.92,185.30 L473.02,185.54 L473.11,185.77 L473.20,186.00 L473.29,186.22 L473.38,186.44 L473.47,186.65 L473.56,186.86 L473.65,187.06 L473.74,187.25 L473.83,187.44 L473.92,187.63 L474.01,187.82 L474.10,188.00 L474.19,188.18 L474.28,188.35 L474.36,188.52 L474.45,188.69 L474.54,188.85 L474.63,189.01 L474.72,189.16 L474.81,189.31 L474.91,189.46 L475.01,189.61 L475.11,189.76 L475.23,189.90 L475.35,190.05 L475.48,190.20 L475.60,190.35 L475.73,190.48 L475.85,190.61 L475.96,190.73 L476.05,190.84 L476.14,190.93 L476.20,191.00 L476.20,191.00 L463.90,191.00 Z"/>
<path d="M144.30,424.75 L144.48,424.59 L144.72,424.39 L145.00,424.16 L145.32,423.89 L145.66,423.60 L146.02,423.30 L146.37,422.99 L146.72,422.69 L147.06,422.40 L147.37,422.12 L147.64,421.87 L147.90,421.64 L148.16,421.41 L148.40,421.20 L148.65,420.98 L148.88,420.76 L149.11,420.54 L149.34,420.31 L149.56,420.05 L149.79,419.78 L150.01,419.48 L150.24,419.16 L150.46,418.82 L150.68,418.46 L150.90,418.08 L151.12,417.70 L151.33,417.30 L151.54,416.90 L151.74,416.49 L151.93,416.08 L152.12,415.67 L152.30,415.26 L152.48,414.84 L152.65,414.40 L152.81,413.96 L152.96,413.51 L153.11,413.06 L153.26,412.61 L153.40,412.18 L153.54,411.75 L153.68,411.35 L153.81,410.96 L153.94,410.61 L154.07,410.30 L154.19,410.01 L154.30,409.74 L154.41,409.47 L154.52,409.19 L154.63,408.89 L154.74,408.56 L154.85,408.19 L154.96,407.77 L155.07,407.29 L155.19,406.78 L155.31,406.23 L155.42,405.65 L155.54,405.05 L155.66,404.42 L155.77,403.76 L155.89,403.07 L156.00,402.36 L156.11,401.63 L156.22,400.88 L156.32,400.11 L156.42,399.33 L156.51,398.53 L156.61,397.71 L156.70,396.86 L156.79,395.98 L156.88,395.06 L156.98,394.10 L157.07,393.10 L157.17,392.04 L157.27,390.94 L157.38,389.79 L157.48,388.61 L157.60,387.38 L157.71,386.11 L157.82,384.80 L157.93,383.46 L158.03,382.07 L158.13,380.65 L158.23,379.18 L158.32,377.68 L158.40,376.18 L158.47,374.69 L158.54,373.19 L158.60,371.65 L158.66,370.06 L158.72,368.40 L158.78,366.64 L158.84,364.76 L158.91,362.76 L158.98,360.60 L159.06,358.25 L159.14,355.72 L159.23,353.02 L159.31,350.18 L159.40,347.25 L159.50,344.24 L159.59,341.19 L159.67,338.14 L159.76,335.11 L159.84,332.14 L159.92,329.25 L159.99,326.38 L160.06,323.52 L160.13,320.65 L160.19,317.79 L160.25,314.92 L160.31,312.06 L160.38,309.20 L160.44,306.33 L160.51,303.47 L160.58,300.60 L160.66,297.71 L160.74,294.76 L160.83,291.76 L160.91,288.74 L161.00,285.73 L161.09,282.75 L161.18,279.84 L161.26,277.00 L161.35,274.27 L161.44,271.68 L161.53,269.23 L161.61,266.69 L161.70,264.05 L161.79,261.40 L161.88,258.82 L161.96,256.40 L162.05,254.22 L162.14,252.38 L162.22,250.95 L162.30,250.03 L162.39,249.69 L162.47,250.03 L162.55,251.01 L162.62,252.53 L162.70,254.51 L162.78,256.84 L162.85,259.42 L162.93,262.17 L163.00,264.99 L163.08,267.77 L163.15,270.43 L163.23,272.88 L163.31,275.29 L163.39,277.71 L163.47,280.16 L163.55,282.67 L163.64,285.24 L163.72,287.89 L163.79,290.64 L163.86,293.51 L163.93,296.51 L163.99,299.66 L164.05,303.01 L164.10,306.59 L164.14,310.35 L164.18,314.25 L164.21,318.25 L164.25,322.28 L164.28,326.31 L164.31,330.30 L164.34,334.18 L164.38,337.92 L164.42,341.48 L164.46,344.98 L164.49,348.43 L164.53,351.84 L164.57,355.19 L164.61,358.48 L164.65,361.70 L164.69,364.86 L164.73,367.94 L164.76,370.94 L164.80,373.85 L164.83,376.66 L164.86,379.34 L164.89,381.93 L164.92,384.44 L164.95,386.88 L164.98,389.28 L165.01,391.64 L165.04,393.99 L165.06,396.35 L165.09,398.73 L165.11,401.17 L165.14,403.76 L165.16,406.46 L165.18,409.21 L165.20,411.95 L165.22,414.62 L165.24,417.16 L165.26,419.50 L165.28,421.59 L165.29,423.36 L165.30,424.75 L165.30,424.75 L144.30,424.75 Z"/>
<path d="M252.90,424.69 L253.27,424.68 L253.65,424.66 L254.02,424.64 L254.40,424.62 L254.77,424.59 L255.15,424.56 L255.52,424.52 L255.90,424.48 L256.27,424.43 L256.65,424.36 L257.02,424.29 L257.40,424.20 L257.77,424.10 L258.15,423.98 L258.52,423.85 L258.90,423.69 L259.27,423.50 L259.65,423.29 L260.02,423.05 L260.40,422.77 L260.77,422.45 L261.15,422.09 L261.52,421.68 L261.90,421.21 L262.27,420.68 L262.65,420.08 L263.02,419.41 L263.40,418.66 L263.77,417.82 L264.15,416.88 L264.52,415.85 L264.89,414.70 L265.27,413.43 L265.64,412.03 L266.02,410.49 L266.39,408.81 L266.77,406.98 L267.14,404.98 L267.52,402.82 L267.89,400.49 L268.27,397.97 L268.64,395.26 L269.02,392.37 L269.39,389.28 L269.77,385.99 L270.14,382.51 L270.52,378.83 L270.89,374.95 L271.27,370.89 L271.64,366.64 L272.02,362.21 L272.39,357.62 L272.77,352.87 L273.14,347.98 L273.52,342.96 L273.89,337.84 L274.27,332.63 L274.64,327.35 L275.02,322.03 L275.39,316.70 L275.77,311.37 L276.15,306.09 L276.53,300.87 L276.91,295.75 L277.30,290.76 L277.68,285.92 L278.08,281.28 L278.47,276.85 L278.88,272.67 L279.28,268.78 L279.69,265.18 L280.11,261.92 L280.53,259.01 L280.95,256.47 L281.36,254.32 L281.77,252.59 L282.18,251.28 L282.58,250.40 L282.96,249.96 L283.34,249.96 L283.70,250.40 L284.05,251.28 L284.40,252.59 L284.74,254.32 L285.07,256.47 L285.40,259.01 L285.73,261.92 L286.07,265.18 L286.40,268.78 L286.75,272.67 L287.10,276.85 L287.45,281.28 L287.81,285.92 L288.17,290.76 L288.53,295.75 L288.90,300.87 L289.27,306.09 L289.64,311.37 L290.01,316.70 L290.39,322.03 L290.76,327.35 L291.13,332.63 L291.51,337.84 L291.88,342.96 L292.26,347.98 L292.63,352.87 L293.01,357.62 L293.38,362.21 L293.76,366.64 L294.13,370.89 L294.51,374.95 L294.88,378.83 L295.26,382.51 L295.63,385.99 L296.01,389.28 L296.38,392.37 L296.76,395.26 L297.13,397.97 L297.51,400.49 L297.88,402.82 L298.26,404.98 L298.63,406.98 L299.01,408.81 L299.38,410.49 L299.76,412.03 L300.13,413.43 L300.51,414.70 L300.88,415.85 L301.25,416.88 L301.63,417.82 L302.00,418.66 L302.38,419.41 L302.75,420.08 L303.13,420.68 L303.50,421.21 L303.88,421.68 L304.25,422.09 L304.63,422.45 L305.00,422.77 L305.38,423.05 L305.75,423.29 L306.13,423.50 L306.50,423.69 L306.88,423.85 L307.25,423.98 L307.63,424.10 L308.00,424.20 L308.38,424.29 L308.75,424.36 L309.13,424.43 L309.50,424.48 L309.88,424.52 L310.25,424.56 L310.63,424.59 L311.00,424.62 L311.38,424.64 L311.75,424.66 L312.13,424.68 L312.50,424.69 L312.50,424.75 L252.90,424.75 Z"/></clipPath>
</defs>
<rect width="598" height="441" fill="#fff"/>
<g>
<rect x="13.4" y="190" width="167.6" height="2" fill="#6c6c6c"/>
<rect x="221.4" y="190" width="167.3" height="2" fill="#6c6c6c"/>
<rect x="430.4" y="190" width="166.6" height="2" fill="#6c6c6c"/>
<rect x="13.4" y="425" width="167.6" height="1" fill="#1e1e1e"/>
<rect x="221.4" y="425" width="167.2" height="1" fill="#1e1e1e"/>
</g>
<g clip-path="url(#cr)"><path d="M1.20,0 L-439.80,441 M5.85,0 L-435.15,441 M10.50,0 L-430.50,441 M15.15,0 L-425.85,441 M19.80,0 L-421.20,441 M24.45,0 L-416.55,441 M29.10,0 L-411.90,441 M33.75,0 L-407.25,441 M38.40,0 L-402.60,441 M43.05,0 L-397.95,441 M47.70,0 L-393.30,441 M52.35,0 L-388.65,441 M57.00,0 L-384.00,441 M61.65,0 L-379.35,441 M66.30,0 L-374.70,441 M70.95,0 L-370.05,441 M75.60,0 L-365.40,441 M80.25,0 L-360.75,441 M84.90,0 L-356.10,441 M89.55,0 L-351.45,441 M94.20,0 L-346.80,441 M98.85,0 L-342.15,441 M103.50,0 L-337.50,441 M108.15,0 L-332.85,441 M112.80,0 L-328.20,441 M117.45,0 L-323.55,441 M122.10,0 L-318.90,441 M126.75,0 L-314.25,441 M131.40,0 L-309.60,441 M136.05,0 L-304.95,441 M140.70,0 L-300.30,441 M145.35,0 L-295.65,441 M150.00,0 L-291.00,441 M154.65,0 L-286.35,441 M159.30,0 L-281.70,441 M163.95,0 L-277.05,441 M168.60,0 L-272.40,441 M173.25,0 L-267.75,441 M177.90,0 L-263.10,441 M182.55,0 L-258.45,441 M187.20,0 L-253.80,441 M191.85,0 L-249.15,441 M196.50,0 L-244.50,441 M201.15,0 L-239.85,441 M205.80,0 L-235.20,441 M210.45,0 L-230.55,441 M215.10,0 L-225.90,441 M219.75,0 L-221.25,441 M224.40,0 L-216.60,441 M229.05,0 L-211.95,441 M233.70,0 L-207.30,441 M238.35,0 L-202.65,441 M243.00,0 L-198.00,441 M247.65,0 L-193.35,441 M252.30,0 L-188.70,441 M256.95,0 L-184.05,441 M261.60,0 L-179.40,441 M266.25,0 L-174.75,441 M270.90,0 L-170.10,441 M275.55,0 L-165.45,441 M280.20,0 L-160.80,441 M284.85,0 L-156.15,441 M289.50,0 L-151.50,441 M294.15,0 L-146.85,441 M298.80,0 L-142.20,441 M303.45,0 L-137.55,441 M308.10,0 L-132.90,441 M312.75,0 L-128.25,441 M317.40,0 L-123.60,441 M322.05,0 L-118.95,441 M326.70,0 L-114.30,441 M331.35,0 L-109.65,441 M336.00,0 L-105.00,441 M340.65,0 L-100.35,441 M345.30,0 L-95.70,441 M349.95,0 L-91.05,441 M354.60,0 L-86.40,441 M359.25,0 L-81.75,441 M363.90,0 L-77.10,441 M368.55,0 L-72.45,441 M373.20,0 L-67.80,441 M377.85,0 L-63.15,441 M382.50,0 L-58.50,441 M387.15,0 L-53.85,441 M391.80,0 L-49.20,441 M396.45,0 L-44.55,441 M401.10,0 L-39.90,441 M405.75,0 L-35.25,441 M410.40,0 L-30.60,441 M415.05,0 L-25.95,441 M419.70,0 L-21.30,441 M424.35,0 L-16.65,441 M429.00,0 L-12.00,441 M433.65,0 L-7.35,441 M438.30,0 L-2.70,441 M442.95,0 L1.95,441 M447.60,0 L6.60,441 M452.25,0 L11.25,441 M456.90,0 L15.90,441 M461.55,0 L20.55,441 M466.20,0 L25.20,441 M470.85,0 L29.85,441 M475.50,0 L34.50,441 M480.15,0 L39.15,441 M484.80,0 L43.80,441 M489.45,0 L48.45,441 M494.10,0 L53.10,441 M498.75,0 L57.75,441 M503.40,0 L62.40,441 M508.05,0 L67.05,441 M512.70,0 L71.70,441 M517.35,0 L76.35,441 M522.00,0 L81.00,441 M526.65,0 L85.65,441 M531.30,0 L90.30,441 M535.95,0 L94.95,441 M540.60,0 L99.60,441 M545.25,0 L104.25,441 M549.90,0 L108.90,441 M554.55,0 L113.55,441 M559.20,0 L118.20,441 M563.85,0 L122.85,441 M568.50,0 L127.50,441 M573.15,0 L132.15,441 M577.80,0 L136.80,441 M582.45,0 L141.45,441 M587.10,0 L146.10,441 M591.75,0 L150.75,441 M596.40,0 L155.40,441 M601.05,0 L160.05,441 M605.70,0 L164.70,441 M610.35,0 L169.35,441 M615.00,0 L174.00,441 M619.65,0 L178.65,441 M624.30,0 L183.30,441 M628.95,0 L187.95,441 M633.60,0 L192.60,441 M638.25,0 L197.25,441 M642.90,0 L201.90,441 M647.55,0 L206.55,441 M652.20,0 L211.20,441 M656.85,0 L215.85,441 M661.50,0 L220.50,441 M666.15,0 L225.15,441 M670.80,0 L229.80,441 M675.45,0 L234.45,441 M680.10,0 L239.10,441 M684.75,0 L243.75,441 M689.40,0 L248.40,441 M694.05,0 L253.05,441 M698.70,0 L257.70,441 M703.35,0 L262.35,441 M708.00,0 L267.00,441 M712.65,0 L271.65,441 M717.30,0 L276.30,441 M721.95,0 L280.95,441 M726.60,0 L285.60,441 M731.25,0 L290.25,441 M735.90,0 L294.90,441 M740.55,0 L299.55,441 M745.20,0 L304.20,441 M749.85,0 L308.85,441 M754.50,0 L313.50,441 M759.15,0 L318.15,441 M763.80,0 L322.80,441 M768.45,0 L327.45,441 M773.10,0 L332.10,441 M777.75,0 L336.75,441 M782.40,0 L341.40,441 M787.05,0 L346.05,441 M791.70,0 L350.70,441 M796.35,0 L355.35,441 M801.00,0 L360.00,441 M805.65,0 L364.65,441 M810.30,0 L369.30,441 M814.95,0 L373.95,441 M819.60,0 L378.60,441 M824.25,0 L383.25,441 M828.90,0 L387.90,441 M833.55,0 L392.55,441 M838.20,0 L397.20,441 M842.85,0 L401.85,441 M847.50,0 L406.50,441 M852.15,0 L411.15,441 M856.80,0 L415.80,441 M861.45,0 L420.45,441 M866.10,0 L425.10,441 M870.75,0 L429.75,441 M875.40,0 L434.40,441 M880.05,0 L439.05,441 M884.70,0 L443.70,441 M889.35,0 L448.35,441 M894.00,0 L453.00,441 M898.65,0 L457.65,441 M903.30,0 L462.30,441 M907.95,0 L466.95,441 M912.60,0 L471.60,441 M917.25,0 L476.25,441 M921.90,0 L480.90,441 M926.55,0 L485.55,441 M931.20,0 L490.20,441 M935.85,0 L494.85,441 M940.50,0 L499.50,441 M945.15,0 L504.15,441 M949.80,0 L508.80,441 M954.45,0 L513.45,441 M959.10,0 L518.10,441 M963.75,0 L522.75,441 M968.40,0 L527.40,441 M973.05,0 L532.05,441 M977.70,0 L536.70,441 M982.35,0 L541.35,441 M987.00,0 L546.00,441 M991.65,0 L550.65,441 M996.30,0 L555.30,441 M1000.95,0 L559.95,441 M1005.60,0 L564.60,441 M1010.25,0 L569.25,441 M1014.90,0 L573.90,441 M1019.55,0 L578.55,441 M1024.20,0 L583.20,441 M1028.85,0 L587.85,441 M1033.50,0 L592.50,441 M1038.15,0 L597.15,441 M1042.80,0 L601.80,441" stroke="#ff0000" stroke-width="0.55" fill="none"/></g>
<g clip-path="url(#cb)"><path d="M-441.70,0 L-0.70,441 M-437.05,0 L3.95,441 M-432.40,0 L8.60,441 M-427.75,0 L13.25,441 M-423.10,0 L17.90,441 M-418.45,0 L22.55,441 M-413.80,0 L27.20,441 M-409.15,0 L31.85,441 M-404.50,0 L36.50,441 M-399.85,0 L41.15,441 M-395.20,0 L45.80,441 M-390.55,0 L50.45,441 M-385.90,0 L55.10,441 M-381.25,0 L59.75,441 M-376.60,0 L64.40,441 M-371.95,0 L69.05,441 M-367.30,0 L73.70,441 M-362.65,0 L78.35,441 M-358.00,0 L83.00,441 M-353.35,0 L87.65,441 M-348.70,0 L92.30,441 M-344.05,0 L96.95,441 M-339.40,0 L101.60,441 M-334.75,0 L106.25,441 M-330.10,0 L110.90,441 M-325.45,0 L115.55,441 M-320.80,0 L120.20,441 M-316.15,0 L124.85,441 M-311.50,0 L129.50,441 M-306.85,0 L134.15,441 M-302.20,0 L138.80,441 M-297.55,0 L143.45,441 M-292.90,0 L148.10,441 M-288.25,0 L152.75,441 M-283.60,0 L157.40,441 M-278.95,0 L162.05,441 M-274.30,0 L166.70,441 M-269.65,0 L171.35,441 M-265.00,0 L176.00,441 M-260.35,0 L180.65,441 M-255.70,0 L185.30,441 M-251.05,0 L189.95,441 M-246.40,0 L194.60,441 M-241.75,0 L199.25,441 M-237.10,0 L203.90,441 M-232.45,0 L208.55,441 M-227.80,0 L213.20,441 M-223.15,0 L217.85,441 M-218.50,0 L222.50,441 M-213.85,0 L227.15,441 M-209.20,0 L231.80,441 M-204.55,0 L236.45,441 M-199.90,0 L241.10,441 M-195.25,0 L245.75,441 M-190.60,0 L250.40,441 M-185.95,0 L255.05,441 M-181.30,0 L259.70,441 M-176.65,0 L264.35,441 M-172.00,0 L269.00,441 M-167.35,0 L273.65,441 M-162.70,0 L278.30,441 M-158.05,0 L282.95,441 M-153.40,0 L287.60,441 M-148.75,0 L292.25,441 M-144.10,0 L296.90,441 M-139.45,0 L301.55,441 M-134.80,0 L306.20,441 M-130.15,0 L310.85,441 M-125.50,0 L315.50,441 M-120.85,0 L320.15,441 M-116.20,0 L324.80,441 M-111.55,0 L329.45,441 M-106.90,0 L334.10,441 M-102.25,0 L338.75,441 M-97.60,0 L343.40,441 M-92.95,0 L348.05,441 M-88.30,0 L352.70,441 M-83.65,0 L357.35,441 M-79.00,0 L362.00,441 M-74.35,0 L366.65,441 M-69.70,0 L371.30,441 M-65.05,0 L375.95,441 M-60.40,0 L380.60,441 M-55.75,0 L385.25,441 M-51.10,0 L389.90,441 M-46.45,0 L394.55,441 M-41.80,0 L399.20,441 M-37.15,0 L403.85,441 M-32.50,0 L408.50,441 M-27.85,0 L413.15,441 M-23.20,0 L417.80,441 M-18.55,0 L422.45,441 M-13.90,0 L427.10,441 M-9.25,0 L431.75,441 M-4.60,0 L436.40,441 M0.05,0 L441.05,441 M4.70,0 L445.70,441 M9.35,0 L450.35,441 M14.00,0 L455.00,441 M18.65,0 L459.65,441 M23.30,0 L464.30,441 M27.95,0 L468.95,441 M32.60,0 L473.60,441 M37.25,0 L478.25,441 M41.90,0 L482.90,441 M46.55,0 L487.55,441 M51.20,0 L492.20,441 M55.85,0 L496.85,441 M60.50,0 L501.50,441 M65.15,0 L506.15,441 M69.80,0 L510.80,441 M74.45,0 L515.45,441 M79.10,0 L520.10,441 M83.75,0 L524.75,441 M88.40,0 L529.40,441 M93.05,0 L534.05,441 M97.70,0 L538.70,441 M102.35,0 L543.35,441 M107.00,0 L548.00,441 M111.65,0 L552.65,441 M116.30,0 L557.30,441 M120.95,0 L561.95,441 M125.60,0 L566.60,441 M130.25,0 L571.25,441 M134.90,0 L575.90,441 M139.55,0 L580.55,441 M144.20,0 L585.20,441 M148.85,0 L589.85,441 M153.50,0 L594.50,441 M158.15,0 L599.15,441 M162.80,0 L603.80,441 M167.45,0 L608.45,441 M172.10,0 L613.10,441 M176.75,0 L617.75,441 M181.40,0 L622.40,441 M186.05,0 L627.05,441 M190.70,0 L631.70,441 M195.35,0 L636.35,441 M200.00,0 L641.00,441 M204.65,0 L645.65,441 M209.30,0 L650.30,441 M213.95,0 L654.95,441 M218.60,0 L659.60,441 M223.25,0 L664.25,441 M227.90,0 L668.90,441 M232.55,0 L673.55,441 M237.20,0 L678.20,441 M241.85,0 L682.85,441 M246.50,0 L687.50,441 M251.15,0 L692.15,441 M255.80,0 L696.80,441 M260.45,0 L701.45,441 M265.10,0 L706.10,441 M269.75,0 L710.75,441 M274.40,0 L715.40,441 M279.05,0 L720.05,441 M283.70,0 L724.70,441 M288.35,0 L729.35,441 M293.00,0 L734.00,441 M297.65,0 L738.65,441 M302.30,0 L743.30,441 M306.95,0 L747.95,441 M311.60,0 L752.60,441 M316.25,0 L757.25,441 M320.90,0 L761.90,441 M325.55,0 L766.55,441 M330.20,0 L771.20,441 M334.85,0 L775.85,441 M339.50,0 L780.50,441 M344.15,0 L785.15,441 M348.80,0 L789.80,441 M353.45,0 L794.45,441 M358.10,0 L799.10,441 M362.75,0 L803.75,441 M367.40,0 L808.40,441 M372.05,0 L813.05,441 M376.70,0 L817.70,441 M381.35,0 L822.35,441 M386.00,0 L827.00,441 M390.65,0 L831.65,441 M395.30,0 L836.30,441 M399.95,0 L840.95,441 M404.60,0 L845.60,441 M409.25,0 L850.25,441 M413.90,0 L854.90,441 M418.55,0 L859.55,441 M423.20,0 L864.20,441 M427.85,0 L868.85,441 M432.50,0 L873.50,441 M437.15,0 L878.15,441 M441.80,0 L882.80,441 M446.45,0 L887.45,441 M451.10,0 L892.10,441 M455.75,0 L896.75,441 M460.40,0 L901.40,441 M465.05,0 L906.05,441 M469.70,0 L910.70,441 M474.35,0 L915.35,441 M479.00,0 L920.00,441 M483.65,0 L924.65,441 M488.30,0 L929.30,441 M492.95,0 L933.95,441 M497.60,0 L938.60,441 M502.25,0 L943.25,441 M506.90,0 L947.90,441 M511.55,0 L952.55,441 M516.20,0 L957.20,441 M520.85,0 L961.85,441 M525.50,0 L966.50,441 M530.15,0 L971.15,441 M534.80,0 L975.80,441 M539.45,0 L980.45,441 M544.10,0 L985.10,441 M548.75,0 L989.75,441 M553.40,0 L994.40,441 M558.05,0 L999.05,441 M562.70,0 L1003.70,441 M567.35,0 L1008.35,441 M572.00,0 L1013.00,441 M576.65,0 L1017.65,441 M581.30,0 L1022.30,441 M585.95,0 L1026.95,441 M590.60,0 L1031.60,441 M595.25,0 L1036.25,441 M599.90,0 L1040.90,441" stroke="#0000ff" stroke-width="0.55" fill="none"/></g>
<g>
<path d="M28.10,190.94 L28.32,190.93 L28.54,190.91 L28.76,190.90 L28.99,190.87 L29.21,190.85 L29.43,190.81 L29.65,190.78 L29.87,190.73 L30.09,190.68 L30.31,190.62 L30.54,190.55 L30.76,190.46 L30.98,190.36 L31.20,190.24 L31.42,190.11 L31.64,189.95 L31.86,189.77 L32.08,189.56 L32.31,189.32 L32.53,189.04 L32.75,188.73 L32.97,188.37 L33.19,187.96 L33.41,187.50 L33.63,186.98 L33.86,186.39 L34.08,185.73 L34.30,184.98 L34.52,184.15 L34.74,183.23 L34.96,182.21 L35.18,181.07 L35.41,179.81 L35.63,178.43 L35.85,176.92 L36.07,175.26 L36.29,173.45 L36.51,171.48 L36.73,169.34 L36.96,167.03 L37.18,164.55 L37.40,161.88 L37.62,159.02 L37.84,155.96 L38.06,152.72 L38.28,149.28 L38.51,145.64 L38.73,141.81 L38.95,137.80 L39.17,133.60 L39.39,129.23 L39.61,124.69 L39.84,120.00 L40.06,115.17 L40.28,110.22 L40.50,105.16 L40.73,100.01 L40.96,94.80 L41.18,89.55 L41.42,84.28 L41.65,79.02 L41.89,73.80 L42.13,68.64 L42.38,63.58 L42.64,58.65 L42.90,53.88 L43.17,49.29 L43.45,44.92 L43.73,40.79 L44.02,36.94 L44.32,33.39 L44.62,30.17 L44.91,27.29 L44.95,26.94 L45.09,26.32 L45.22,25.70 L45.35,25.08 L45.48,24.47 L45.61,23.85 L45.74,23.23 L45.86,22.62 L45.98,22.00 L46.11,21.38 L46.23,20.77 L46.34,20.15 L46.45,19.53 L46.56,18.92 L46.65,18.30 L46.65,18.30 L46.69,18.92 L46.75,19.53 L46.82,20.15 L46.89,20.77 L46.97,21.38 L47.05,22.00 L47.13,22.62 L47.22,23.23 L47.30,23.85 L47.39,24.47 L47.49,25.08 L47.58,25.70 L47.68,26.32 L47.77,26.94 L47.79,27.29 L47.94,30.17 L48.08,33.39 L48.23,36.94 L48.38,40.79 L48.54,44.92 L48.71,49.29 L48.88,53.88 L49.06,58.65 L49.24,63.58 L49.44,68.64 L49.64,73.80 L49.84,79.02 L50.05,84.28 L50.26,89.55 L50.48,94.80 L50.69,100.01 L50.91,105.16 L51.13,110.22 L51.35,115.17 L51.57,120.00 L51.79,124.69 L52.01,129.23 L52.23,133.60 L52.45,137.80 L52.67,141.81 L52.90,145.64 L53.12,149.28 L53.34,152.72 L53.56,155.96 L53.78,159.02 L54.00,161.88 L54.22,164.55 L54.44,167.03 L54.67,169.34 L54.89,171.48 L55.11,173.45 L55.33,175.26 L55.55,176.92 L55.77,178.43 L55.99,179.81 L56.22,181.07 L56.44,182.21 L56.66,183.23 L56.88,184.15 L57.10,184.98 L57.32,185.73 L57.54,186.39 L57.77,186.98 L57.99,187.50 L58.21,187.96 L58.43,188.37 L58.65,188.73 L58.87,189.04 L59.09,189.32 L59.32,189.56 L59.54,189.77 L59.76,189.95 L59.98,190.11 L60.20,190.24 L60.42,190.36 L60.64,190.46 L60.86,190.55 L61.09,190.62 L61.31,190.68 L61.53,190.73 L61.75,190.78 L61.97,190.81 L62.19,190.85 L62.41,190.87 L62.64,190.90 L62.86,190.91 L63.08,190.93 L63.30,190.94" fill="none" stroke="#ff0000" stroke-width="1.0" stroke-linejoin="round"/>
<path d="M125.50,190.94 L125.74,190.93 L125.98,190.91 L126.22,190.89 L126.46,190.87 L126.69,190.84 L126.93,190.81 L127.17,190.77 L127.41,190.73 L127.65,190.67 L127.89,190.61 L128.13,190.54 L128.37,190.45 L128.61,190.35 L128.85,190.23 L129.08,190.09 L129.32,189.93 L129.56,189.74 L129.80,189.53 L130.04,189.29 L130.28,189.01 L130.52,188.68 L130.76,188.32 L131.00,187.90 L131.24,187.43 L131.47,186.90 L131.71,186.29 L131.95,185.62 L132.19,184.86 L132.43,184.02 L132.67,183.07 L132.91,182.03 L133.15,180.87 L133.39,179.59 L133.63,178.18 L133.86,176.63 L134.10,174.94 L134.34,173.09 L134.58,171.08 L134.82,168.90 L135.06,166.55 L135.30,164.01 L135.54,161.29 L135.78,158.37 L136.02,155.25 L136.25,151.94 L136.49,148.43 L136.73,144.72 L136.97,140.82 L137.21,136.72 L137.45,132.44 L137.69,127.98 L137.93,123.35 L138.17,118.56 L138.41,113.63 L138.65,108.58 L138.89,103.42 L139.13,98.17 L139.37,92.85 L139.61,87.49 L139.85,82.11 L140.09,76.75 L140.34,71.42 L140.59,66.16 L140.84,61.00 L141.09,55.97 L141.35,51.10 L141.62,46.42 L141.88,41.96 L142.15,37.75 L142.43,33.82 L142.53,32.42 L142.76,31.16 L142.97,29.90 L143.19,28.64 L143.39,27.39 L143.59,26.13 L143.79,24.87 L143.98,23.61 L144.16,22.35 L144.33,21.09 L144.49,19.83 L144.65,18.58 L144.79,17.32 L144.91,16.06 L145.00,14.80 L145.00,14.80 L145.03,16.06 L145.10,17.32 L145.19,18.58 L145.30,19.83 L145.42,21.09 L145.55,22.35 L145.69,23.61 L145.84,24.87 L145.99,26.13 L146.16,27.39 L146.33,28.64 L146.51,29.90 L146.70,31.16 L146.90,32.42 L146.97,33.82 L147.17,37.75 L147.38,41.96 L147.59,46.42 L147.81,51.10 L148.02,55.97 L148.25,61.00 L148.48,66.16 L148.70,71.42 L148.94,76.75 L149.17,82.11 L149.41,87.49 L149.64,92.85 L149.88,98.17 L150.12,103.42 L150.36,108.58 L150.60,113.63 L150.83,118.56 L151.07,123.35 L151.31,127.98 L151.55,132.44 L151.79,136.72 L152.03,140.82 L152.27,144.72 L152.51,148.43 L152.75,151.94 L152.98,155.25 L153.22,158.37 L153.46,161.29 L153.70,164.01 L153.94,166.55 L154.18,168.90 L154.42,171.08 L154.66,173.09 L154.90,174.94 L155.14,176.63 L155.37,178.18 L155.61,179.59 L155.85,180.87 L156.09,182.03 L156.33,183.07 L156.57,184.02 L156.81,184.86 L157.05,185.62 L157.29,186.29 L157.53,186.90 L157.76,187.43 L158.00,187.90 L158.24,188.32 L158.48,188.68 L158.72,189.01 L158.96,189.29 L159.20,189.53 L159.44,189.74 L159.68,189.93 L159.92,190.09 L160.15,190.23 L160.39,190.35 L160.63,190.45 L160.87,190.54 L161.11,190.61 L161.35,190.67 L161.59,190.73 L161.83,190.77 L162.07,190.81 L162.31,190.84 L162.54,190.87 L162.78,190.89 L163.02,190.91 L163.26,190.93 L163.50,190.94" fill="none" stroke="#0000ff" stroke-width="1.12" stroke-linejoin="round"/>
<path d="M237.00,191.00 L237.05,190.68 L237.11,190.32 L237.18,189.92 L237.26,189.45 L237.35,188.92 L237.44,188.32 L237.54,187.62 L237.63,186.84 L237.72,185.95 L237.80,184.95 L237.88,183.82 L237.96,182.58 L238.04,181.23 L238.12,179.78 L238.20,178.26 L238.28,176.66 L238.36,175.01 L238.44,173.31 L238.52,171.58 L238.61,169.82 L238.70,167.95 L238.79,165.93 L238.88,163.80 L238.97,161.62 L239.07,159.41 L239.16,157.24 L239.25,155.15 L239.34,153.17 L239.43,151.37 L239.51,149.78 L239.59,148.57 L239.66,147.72 L239.73,147.12 L239.80,146.64 L239.87,146.16 L239.93,145.56 L240.00,144.71 L240.07,143.50 L240.14,141.79 L240.22,139.48 L240.29,136.49 L240.37,132.90 L240.46,128.86 L240.54,124.51 L240.63,119.97 L240.71,115.38 L240.79,110.87 L240.87,106.58 L240.95,102.64 L241.02,99.18 L241.08,96.08 L241.14,93.23 L241.20,90.58 L241.25,88.07 L241.30,85.65 L241.36,83.28 L241.41,80.90 L241.48,78.45 L241.55,75.89 L241.62,73.16 L241.71,70.29 L241.80,67.32 L241.90,64.27 L242.00,61.20 L242.11,58.13 L242.22,55.10 L242.32,52.16 L242.43,49.32 L242.53,46.64 L242.64,44.14 L242.74,41.75 L242.84,39.44 L242.94,37.22 L243.04,35.09 L243.14,33.05 L243.24,31.12 L243.34,29.28 L243.44,27.55 L243.54,25.92 L243.64,24.40 L243.74,22.94 L243.84,21.54 L243.94,20.22 L244.04,19.01 L244.14,17.92 L244.24,16.98 L244.34,16.20 L244.44,15.61 L244.54,15.22 L244.65,15.05 L244.74,15.11 L244.84,15.37 L244.94,15.81 L245.04,16.42 L245.13,17.19 L245.23,18.08 L245.33,19.09 L245.44,20.19 L245.55,21.38 L245.65,22.63 L245.76,23.96 L245.85,25.36 L245.95,26.87 L246.05,28.49 L246.16,30.24 L246.27,32.14 L246.40,34.19 L246.55,36.43 L246.72,38.85 L246.91,41.48 L247.13,44.41 L247.37,47.58 L247.62,50.95 L247.89,54.47 L248.17,58.09 L248.46,61.77 L248.74,65.45 L249.02,69.08 L249.29,72.62 L249.56,76.05 L249.81,79.47 L250.06,82.88 L250.32,86.30 L250.57,89.72 L250.82,93.14 L251.08,96.55 L251.34,99.97 L251.62,103.39 L251.90,106.80 L252.19,110.25 L252.50,113.82 L252.82,117.47 L253.15,121.15 L253.48,124.82 L253.81,128.42 L254.15,131.91 L254.48,135.23 L254.80,138.35 L255.11,141.20 L255.41,143.77 L255.70,146.09 L255.98,148.20 L256.26,150.13 L256.54,151.91 L256.81,153.57 L257.08,155.14 L257.36,156.65 L257.64,158.14 L257.93,159.62 L258.22,161.11 L258.50,162.51 L258.79,163.83 L259.07,165.09 L259.36,166.30 L259.65,167.46 L259.95,168.57 L260.27,169.66 L260.59,170.73 L260.93,171.79 L261.28,172.84 L261.65,173.86 L262.02,174.85 L262.41,175.81 L262.80,176.75 L263.21,177.65 L263.63,178.51 L264.05,179.34 L264.49,180.14 L264.93,180.89 L265.39,181.60 L265.85,182.28 L266.33,182.92 L266.82,183.52 L267.31,184.09 L267.82,184.62 L268.33,185.12 L268.86,185.60 L269.40,186.04 L269.94,186.46 L270.49,186.84 L271.03,187.17 L271.57,187.46 L272.12,187.72 L272.68,187.95 L273.26,188.17 L273.87,188.37 L274.52,188.57 L275.21,188.77 L275.96,188.99 L276.81,189.22 L277.79,189.45 L278.85,189.69 L279.97,189.93 L281.10,190.15 L282.19,190.36 L283.22,190.56 L284.14,190.73 L284.92,190.88 L285.50,191.00" fill="none" stroke="#0000ff" stroke-width="1.12" stroke-linejoin="round"/>
<path d="M247.00,191.00 L247.64,190.88 L248.54,190.71 L249.59,190.51 L250.67,190.29 L251.67,190.08 L252.51,189.87 L253.27,189.67 L254.00,189.45 L254.71,189.23 L255.43,188.99 L256.19,188.74 L256.99,188.46 L257.80,188.17 L258.62,187.87 L259.43,187.56 L260.20,187.24 L260.94,186.92 L261.65,186.60 L262.35,186.27 L263.03,185.93 L263.68,185.58 L264.29,185.23 L264.85,184.89 L265.38,184.55 L265.91,184.19 L266.46,183.79 L267.07,183.35 L267.76,182.83 L268.50,182.25 L269.26,181.65 L270.01,181.06 L270.72,180.53 L271.36,180.08 L271.96,179.70 L272.53,179.35 L273.08,179.01 L273.64,178.65 L274.20,178.26 L274.77,177.86 L275.35,177.46 L275.91,177.04 L276.46,176.56 L276.99,176.02 L277.48,175.38 L277.95,174.66 L278.40,173.90 L278.85,173.11 L279.31,172.32 L279.78,171.53 L280.26,170.72 L280.75,169.89 L281.23,169.07 L281.72,168.28 L282.20,167.55 L282.69,166.86 L283.19,166.20 L283.68,165.57 L284.16,164.97 L284.63,164.39 L285.08,163.83 L285.52,163.28 L285.96,162.76 L286.38,162.27 L286.79,161.82 L287.18,161.43 L287.55,161.11 L287.91,160.84 L288.26,160.58 L288.60,160.31 L288.93,159.97 L289.24,159.55 L289.54,159.08 L289.83,158.59 L290.11,158.12 L290.41,157.71 L290.71,157.36 L291.01,157.05 L291.31,156.77 L291.62,156.54 L291.96,156.37 L292.32,156.28 L292.72,156.32 L293.13,156.44 L293.57,156.59 L294.01,156.70 L294.47,156.70 L294.95,156.56 L295.44,156.30 L295.95,156.00 L296.46,155.70 L296.98,155.47 L297.49,155.34 L298.00,155.27 L298.52,155.24 L299.04,155.24 L299.57,155.27 L300.10,155.31 L300.65,155.37 L301.21,155.46 L301.77,155.56 L302.33,155.67 L302.89,155.78 L303.45,155.89 L304.01,156.03 L304.57,156.17 L305.13,156.30 L305.68,156.38 L306.24,156.40 L306.80,156.33 L307.36,156.21 L307.91,156.09 L308.47,156.01 L309.03,156.00 L309.57,156.10 L310.10,156.26 L310.63,156.46 L311.19,156.66 L311.79,156.85 L312.45,157.00 L313.17,157.13 L313.93,157.25 L314.70,157.38 L315.47,157.51 L316.22,157.64 L316.99,157.81 L317.76,158.00 L318.52,158.17 L319.26,158.31 L319.95,158.40 L320.57,158.38 L321.14,158.28 L321.68,158.14 L322.21,158.02 L322.75,157.98 L323.30,158.06 L323.86,158.24 L324.42,158.48 L324.97,158.76 L325.53,159.06 L326.09,159.35 L326.66,159.64 L327.23,159.94 L327.80,160.26 L328.36,160.59 L328.89,160.93 L329.39,161.27 L329.88,161.63 L330.35,162.00 L330.80,162.38 L331.24,162.77 L331.67,163.16 L332.07,163.53 L332.45,163.89 L332.82,164.28 L333.21,164.71 L333.61,165.21 L334.05,165.80 L334.50,166.46 L334.96,167.16 L335.42,167.87 L335.85,168.56 L336.26,169.23 L336.64,169.87 L337.01,170.52 L337.37,171.16 L337.73,171.82 L338.10,172.48 L338.47,173.15 L338.84,173.83 L339.22,174.52 L339.59,175.21 L339.96,175.92 L340.31,176.64 L340.64,177.36 L340.98,178.09 L341.34,178.84 L341.76,179.61 L342.28,180.42 L342.88,181.30 L343.55,182.20 L344.25,183.10 L344.94,183.94 L345.58,184.69 L346.19,185.35 L346.79,185.94 L347.37,186.49 L347.96,186.99 L348.55,187.48 L349.16,187.96 L349.77,188.41 L350.38,188.84 L350.99,189.24 L351.61,189.60 L352.24,189.92 L352.95,190.21 L353.68,190.46 L354.38,190.69 L354.98,190.86 L355.40,191.00" fill="none" stroke="#ff0000" stroke-width="1.0" stroke-linejoin="round"/>
<path d="M463.90,191.00 L463.91,189.78 L463.92,188.25 L463.94,186.44 L463.96,184.41 L463.98,182.21 L464.00,179.89 L464.02,177.49 L464.04,175.06 L464.06,172.66 L464.08,170.33 L464.10,168.12 L464.12,166.03 L464.13,163.99 L464.15,161.99 L464.16,160.00 L464.18,158.00 L464.19,155.95 L464.21,153.85 L464.23,151.65 L464.25,149.35 L464.27,146.90 L464.30,144.30 L464.33,141.52 L464.36,138.58 L464.39,135.50 L464.42,132.30 L464.46,129.01 L464.49,125.65 L464.53,122.25 L464.57,118.81 L464.61,115.37 L464.65,111.94 L464.69,108.56 L464.73,105.20 L464.78,101.81 L464.82,98.40 L464.87,94.97 L464.91,91.53 L464.96,88.07 L465.00,84.60 L465.05,81.14 L465.10,77.67 L465.14,74.21 L465.19,70.76 L465.24,67.28 L465.28,63.66 L465.33,59.95 L465.38,56.20 L465.43,52.46 L465.47,48.77 L465.52,45.17 L465.57,41.72 L465.61,38.46 L465.65,35.44 L465.69,32.70 L465.73,30.23 L465.76,27.85 L465.79,25.59 L465.82,23.48 L465.84,21.54 L465.87,19.80 L465.89,18.29 L465.92,17.04 L465.94,16.08 L465.97,15.43 L465.99,15.12 L466.02,15.18 L466.04,15.61 L466.06,16.36 L466.08,17.43 L466.10,18.77 L466.12,20.35 L466.14,22.16 L466.16,24.16 L466.20,26.33 L466.23,28.63 L466.28,31.04 L466.33,33.58 L466.40,36.42 L466.47,39.52 L466.55,42.85 L466.63,46.35 L466.71,49.99 L466.80,53.70 L466.89,57.46 L466.98,61.20 L467.07,64.88 L467.16,68.46 L467.25,71.92 L467.34,75.40 L467.43,78.91 L467.52,82.43 L467.61,85.96 L467.71,89.47 L467.80,92.96 L467.89,96.41 L467.99,99.81 L468.07,103.15 L468.16,106.41 L468.24,109.58 L468.32,112.74 L468.40,115.88 L468.47,118.99 L468.55,122.04 L468.62,125.04 L468.69,127.97 L468.76,130.81 L468.83,133.55 L468.90,136.17 L468.96,138.67 L469.03,141.03 L469.09,143.25 L469.14,145.35 L469.20,147.33 L469.25,149.22 L469.30,151.01 L469.35,152.73 L469.40,154.38 L469.46,155.98 L469.51,157.54 L469.56,159.07 L469.62,160.59 L469.68,162.06 L469.74,163.50 L469.81,164.88 L469.87,166.21 L469.93,167.48 L470.00,168.70 L470.06,169.85 L470.13,170.94 L470.19,171.96 L470.26,172.91 L470.32,173.78 L470.38,174.55 L470.44,175.22 L470.50,175.81 L470.56,176.33 L470.62,176.79 L470.68,177.21 L470.74,177.60 L470.81,177.97 L470.87,178.34 L470.95,178.71 L471.02,179.11 L471.10,179.50 L471.19,179.86 L471.27,180.20 L471.37,180.52 L471.46,180.83 L471.55,181.13 L471.65,181.42 L471.74,181.70 L471.84,181.99 L471.93,182.27 L472.02,182.57 L472.11,182.86 L472.20,183.15 L472.29,183.43 L472.38,183.71 L472.47,183.99 L472.56,184.26 L472.65,184.53 L472.74,184.79 L472.83,185.05 L472.92,185.30 L473.02,185.54 L473.11,185.77 L473.20,186.00 L473.29,186.22 L473.38,186.44 L473.47,186.65 L473.56,186.86 L473.65,187.06 L473.74,187.25 L473.83,187.44 L473.92,187.63 L474.01,187.82 L474.10,188.00 L474.19,188.18 L474.28,188.35 L474.36,188.52 L474.45,188.69 L474.54,188.85 L474.63,189.01 L474.72,189.16 L474.81,189.31 L474.91,189.46 L475.01,189.61 L475.11,189.76 L475.23,189.90 L475.35,190.05 L475.48,190.20 L475.60,190.35 L475.73,190.48 L475.85,190.61 L475.96,190.73 L476.05,190.84 L476.14,190.93 L476.20,191.00" fill="none" stroke="#0000ff" stroke-width="1.12" stroke-linejoin="round"/>
<path d="M477.00,191.00 L477.20,190.92 L477.44,190.83 L477.71,190.72 L478.02,190.60 L478.35,190.46 L478.71,190.32 L479.08,190.17 L479.48,190.02 L479.88,189.86 L480.29,189.69 L480.70,189.53 L481.11,189.36 L481.52,189.20 L481.92,189.03 L482.31,188.87 L482.71,188.71 L483.11,188.54 L483.53,188.38 L483.95,188.20 L484.37,188.03 L484.80,187.85 L485.23,187.67 L485.66,187.49 L486.10,187.31 L486.53,187.13 L486.96,186.94 L487.39,186.76 L487.82,186.58 L488.24,186.39 L488.66,186.21 L489.09,186.01 L489.51,185.81 L489.93,185.61 L490.35,185.41 L490.77,185.21 L491.20,185.01 L491.62,184.82 L492.04,184.62 L492.46,184.43 L492.88,184.25 L493.31,184.07 L493.73,183.90 L494.15,183.74 L494.57,183.59 L494.98,183.44 L495.40,183.30 L495.81,183.16 L496.22,183.02 L496.63,182.89 L497.04,182.76 L497.46,182.64 L497.88,182.52 L498.30,182.41 L498.73,182.30 L499.17,182.19 L499.61,182.09 L500.07,181.99 L500.53,181.89 L501.01,181.80 L501.50,181.71 L502.00,181.63 L502.50,181.55 L503.01,181.47 L503.52,181.40 L504.03,181.33 L504.54,181.26 L505.04,181.20 L505.54,181.15 L506.02,181.10 L506.50,181.05 L506.97,181.00 L507.42,180.96 L507.86,180.93 L508.30,180.90 L508.73,180.88 L509.15,180.86 L509.57,180.84 L509.99,180.83 L510.40,180.82 L510.81,180.81 L511.22,180.81 L511.63,180.80 L512.05,180.80 L512.46,180.80 L512.88,180.80 L513.30,180.80 L513.72,180.80 L514.13,180.80 L514.54,180.80 L514.95,180.81 L515.36,180.81 L515.78,180.82 L516.19,180.83 L516.61,180.85 L517.03,180.86 L517.45,180.89 L517.88,180.91 L518.32,180.94 L518.77,180.98 L519.23,181.02 L519.69,181.07 L520.15,181.12 L520.61,181.18 L521.07,181.24 L521.54,181.30 L522.02,181.37 L522.50,181.44 L522.99,181.52 L523.49,181.59 L524.00,181.68 L524.52,181.76 L525.06,181.85 L525.60,181.94 L526.16,182.03 L526.74,182.12 L527.32,182.22 L527.92,182.32 L528.53,182.43 L529.16,182.53 L529.79,182.64 L530.43,182.76 L531.07,182.87 L531.73,182.99 L532.38,183.11 L533.05,183.23 L533.71,183.36 L534.38,183.48 L535.05,183.61 L535.72,183.74 L536.40,183.87 L537.09,184.01 L537.79,184.16 L538.49,184.30 L539.20,184.45 L539.91,184.59 L540.63,184.74 L541.34,184.89 L542.06,185.03 L542.77,185.18 L543.48,185.32 L544.19,185.45 L544.90,185.58 L545.60,185.71 L546.31,185.83 L547.01,185.95 L547.71,186.07 L548.42,186.19 L549.12,186.30 L549.82,186.42 L550.53,186.53 L551.23,186.64 L551.93,186.74 L552.64,186.85 L553.34,186.96 L554.05,187.06 L554.75,187.16 L555.45,187.27 L556.16,187.36 L556.86,187.46 L557.56,187.56 L558.27,187.65 L558.97,187.74 L559.67,187.83 L560.38,187.92 L561.08,188.01 L561.78,188.10 L562.49,188.19 L563.19,188.27 L563.89,188.36 L564.60,188.45 L565.30,188.54 L566.02,188.63 L566.75,188.71 L567.49,188.80 L568.23,188.89 L568.98,188.97 L569.72,189.06 L570.45,189.15 L571.18,189.23 L571.89,189.31 L572.59,189.40 L573.26,189.48 L573.91,189.56 L574.53,189.64 L575.12,189.72 L575.70,189.80 L576.27,189.88 L576.84,189.96 L577.38,190.04 L577.92,190.12 L578.43,190.20 L578.93,190.28 L579.39,190.36 L579.83,190.43 L580.24,190.50 L580.62,190.56 L580.95,190.61 L581.25,190.66 L581.50,190.70" fill="none" stroke="#ff0000" stroke-width="1.0" stroke-linejoin="round"/>
<path d="M82.40,424.75 L82.43,424.60 L82.46,424.44 L82.50,424.27 L82.54,424.08 L82.59,423.86 L82.64,423.62 L82.69,423.34 L82.75,423.03 L82.80,422.66 L82.86,422.25 L82.92,421.78 L82.98,421.25 L83.03,420.66 L83.09,420.01 L83.15,419.32 L83.21,418.58 L83.28,417.80 L83.34,416.96 L83.41,416.08 L83.48,415.16 L83.54,414.19 L83.61,413.17 L83.68,412.11 L83.74,411.00 L83.81,409.85 L83.87,408.63 L83.94,407.34 L84.00,405.97 L84.06,404.55 L84.12,403.08 L84.19,401.58 L84.25,400.05 L84.32,398.52 L84.38,396.98 L84.45,395.45 L84.51,393.93 L84.58,392.45 L84.65,391.00 L84.72,389.53 L84.80,388.04 L84.87,386.54 L84.95,385.04 L85.03,383.54 L85.10,382.05 L85.18,380.58 L85.25,379.13 L85.33,377.71 L85.39,376.32 L85.46,374.98 L85.51,373.68 L85.57,372.41 L85.61,371.17 L85.66,369.96 L85.70,368.77 L85.73,367.60 L85.77,366.46 L85.80,365.35 L85.84,364.27 L85.87,363.21 L85.91,362.17 L85.95,361.16 L85.99,360.18 L86.04,359.23 L86.08,358.30 L86.13,357.41 L86.18,356.54 L86.23,355.70 L86.29,354.89 L86.34,354.10 L86.39,353.32 L86.44,352.57 L86.48,351.84 L86.53,351.13 L86.57,350.43 L86.61,349.75 L86.65,349.09 L86.69,348.45 L86.72,347.84 L86.75,347.25 L86.78,346.68 L86.80,346.13 L86.83,345.59 L86.86,345.06 L86.89,344.54 L86.92,344.03 L86.96,343.53 L87.00,343.03 L87.04,342.51 L87.08,341.96 L87.13,341.38 L87.18,340.80 L87.23,340.23 L87.29,339.67 L87.34,339.16 L87.39,338.69 L87.44,338.29 L87.49,337.97 L87.54,337.74 L87.58,337.62 L87.62,337.62 L87.66,337.74 L87.69,337.97 L87.73,338.29 L87.76,338.69 L87.79,339.16 L87.82,339.67 L87.85,340.23 L87.88,340.80 L87.91,341.38 L87.94,341.96 L87.97,342.51 L88.00,343.03 L88.03,343.53 L88.07,344.03 L88.10,344.54 L88.13,345.06 L88.16,345.59 L88.19,346.13 L88.22,346.68 L88.25,347.25 L88.28,347.84 L88.32,348.45 L88.35,349.09 L88.39,349.75 L88.42,350.43 L88.46,351.13 L88.49,351.84 L88.52,352.57 L88.56,353.32 L88.59,354.10 L88.63,354.89 L88.67,355.70 L88.71,356.54 L88.75,357.41 L88.80,358.30 L88.85,359.23 L88.91,360.18 L88.98,361.16 L89.05,362.17 L89.12,363.21 L89.20,364.27 L89.28,365.35 L89.37,366.46 L89.45,367.60 L89.54,368.77 L89.63,369.96 L89.71,371.17 L89.80,372.41 L89.88,373.68 L89.96,374.98 L90.04,376.34 L90.13,377.75 L90.21,379.20 L90.30,380.67 L90.38,382.17 L90.46,383.68 L90.55,385.19 L90.63,386.69 L90.70,388.17 L90.78,389.63 L90.85,391.05 L90.92,392.43 L90.99,393.80 L91.05,395.17 L91.11,396.53 L91.16,397.89 L91.22,399.24 L91.27,400.56 L91.33,401.86 L91.38,403.14 L91.43,404.38 L91.48,405.58 L91.54,406.75 L91.59,407.86 L91.65,408.94 L91.70,409.98 L91.75,410.99 L91.79,411.97 L91.84,412.92 L91.89,413.83 L91.94,414.72 L91.99,415.56 L92.05,416.38 L92.11,417.16 L92.18,417.90 L92.25,418.62 L92.34,419.29 L92.44,419.94 L92.55,420.55 L92.67,421.13 L92.81,421.67 L92.94,422.19 L93.07,422.66 L93.20,423.11 L93.33,423.51 L93.44,423.88 L93.55,424.21 L93.63,424.50 L93.70,424.75" fill="none" stroke="#ff0000" stroke-width="1.0" stroke-linejoin="round"/>
<path d="M142.20,424.75 L142.23,424.52 L142.27,424.29 L142.32,424.04 L142.38,423.74 L142.44,423.40 L142.50,423.00 L142.56,422.51 L142.63,421.93 L142.70,421.24 L142.77,420.43 L142.84,419.48 L142.90,418.38 L142.97,417.14 L143.04,415.78 L143.12,414.34 L143.19,412.82 L143.27,411.25 L143.35,409.66 L143.43,408.06 L143.52,406.47 L143.60,404.92 L143.70,403.36 L143.80,401.75 L143.90,400.10 L144.00,398.43 L144.11,396.75 L144.21,395.07 L144.32,393.40 L144.43,391.77 L144.54,390.17 L144.65,388.63 L144.77,387.15 L144.89,385.73 L145.01,384.34 L145.14,382.99 L145.27,381.67 L145.40,380.37 L145.52,379.08 L145.64,377.79 L145.74,376.49 L145.83,375.19 L145.91,373.86 L145.96,372.50 L146.00,371.12 L146.03,369.73 L146.04,368.33 L146.05,366.93 L146.05,365.56 L146.06,364.21 L146.06,362.89 L146.07,361.63 L146.09,360.43 L146.12,359.29 L146.15,358.19 L146.19,357.13 L146.23,356.12 L146.27,355.14 L146.32,354.19 L146.36,353.28 L146.40,352.39 L146.44,351.53 L146.47,350.69 L146.50,349.87 L146.53,349.08 L146.55,348.31 L146.58,347.56 L146.59,346.85 L146.61,346.16 L146.63,345.50 L146.64,344.87 L146.66,344.27 L146.68,343.70 L146.69,343.16 L146.71,342.66 L146.73,342.18 L146.74,341.72 L146.75,341.30 L146.76,340.90 L146.77,340.54 L146.79,340.21 L146.81,339.92 L146.84,339.66 L146.87,339.44 L146.91,339.27 L146.96,339.14 L147.01,339.05 L147.08,339.01 L147.15,339.01 L147.22,339.04 L147.29,339.09 L147.37,339.17 L147.44,339.26 L147.51,339.36 L147.58,339.47 L147.65,339.58 L147.72,339.70 L147.79,339.83 L147.86,339.97 L147.93,340.14 L148.00,340.32 L148.07,340.53 L148.13,340.77 L148.20,341.04 L148.26,341.35 L148.31,341.70 L148.37,342.09 L148.42,342.52 L148.47,342.99 L148.52,343.48 L148.57,344.01 L148.62,344.55 L148.66,345.12 L148.70,345.70 L148.75,346.28 L148.79,346.88 L148.83,347.47 L148.88,348.09 L148.92,348.72 L148.96,349.37 L149.00,350.04 L149.03,350.71 L149.07,351.40 L149.11,352.10 L149.14,352.80 L149.18,353.51 L149.21,354.23 L149.24,354.93 L149.27,355.63 L149.30,356.32 L149.32,357.03 L149.35,357.75 L149.37,358.49 L149.40,359.26 L149.43,360.08 L149.46,360.94 L149.49,361.85 L149.53,362.81 L149.57,363.80 L149.62,364.81 L149.66,365.85 L149.71,366.94 L149.76,368.06 L149.81,369.24 L149.86,370.47 L149.91,371.76 L149.97,373.11 L150.02,374.54 L150.07,376.07 L150.13,377.70 L150.19,379.42 L150.24,381.18 L150.30,382.99 L150.36,384.81 L150.42,386.62 L150.48,388.41 L150.54,390.16 L150.59,391.83 L150.65,393.46 L150.71,395.11 L150.77,396.76 L150.82,398.40 L150.88,400.02 L150.94,401.60 L150.99,403.13 L151.05,404.60 L151.11,405.99 L151.17,407.29 L151.22,408.49 L151.28,409.61 L151.33,410.65 L151.37,411.62 L151.42,412.52 L151.47,413.37 L151.52,414.17 L151.58,414.92 L151.64,415.63 L151.72,416.31 L151.80,416.97 L151.88,417.58 L151.96,418.13 L152.04,418.63 L152.13,419.08 L152.22,419.50 L152.32,419.88 L152.44,420.25 L152.57,420.60 L152.72,420.95 L152.90,421.31 L153.10,421.68 L153.35,422.05 L153.65,422.42 L153.97,422.79 L154.31,423.15 L154.66,423.48 L154.99,423.80 L155.31,424.09 L155.59,424.35 L155.82,424.57 L156.00,424.75" fill="none" stroke="#ff0000" stroke-width="1.0" stroke-linejoin="round"/>
<path d="M144.30,424.75 L144.48,424.59 L144.72,424.39 L145.00,424.16 L145.32,423.89 L145.66,423.60 L146.02,423.30 L146.37,422.99 L146.72,422.69 L147.06,422.40 L147.37,422.12 L147.64,421.87 L147.90,421.64 L148.16,421.41 L148.40,421.20 L148.65,420.98 L148.88,420.76 L149.11,420.54 L149.34,420.31 L149.56,420.05 L149.79,419.78 L150.01,419.48 L150.24,419.16 L150.46,418.82 L150.68,418.46 L150.90,418.08 L151.12,417.70 L151.33,417.30 L151.54,416.90 L151.74,416.49 L151.93,416.08 L152.12,415.67 L152.30,415.26 L152.48,414.84 L152.65,414.40 L152.81,413.96 L152.96,413.51 L153.11,413.06 L153.26,412.61 L153.40,412.18 L153.54,411.75 L153.68,411.35 L153.81,410.96 L153.94,410.61 L154.07,410.30 L154.19,410.01 L154.30,409.74 L154.41,409.47 L154.52,409.19 L154.63,408.89 L154.74,408.56 L154.85,408.19 L154.96,407.77 L155.07,407.29 L155.19,406.78 L155.31,406.23 L155.42,405.65 L155.54,405.05 L155.66,404.42 L155.77,403.76 L155.89,403.07 L156.00,402.36 L156.11,401.63 L156.22,400.88 L156.32,400.11 L156.42,399.33 L156.51,398.53 L156.61,397.71 L156.70,396.86 L156.79,395.98 L156.88,395.06 L156.98,394.10 L157.07,393.10 L157.17,392.04 L157.27,390.94 L157.38,389.79 L157.48,388.61 L157.60,387.38 L157.71,386.11 L157.82,384.80 L157.93,383.46 L158.03,382.07 L158.13,380.65 L158.23,379.18 L158.32,377.68 L158.40,376.18 L158.47,374.69 L158.54,373.19 L158.60,371.65 L158.66,370.06 L158.72,368.40 L158.78,366.64 L158.84,364.76 L158.91,362.76 L158.98,360.60 L159.06,358.25 L159.14,355.72 L159.23,353.02 L159.31,350.18 L159.40,347.25 L159.50,344.24 L159.59,341.19 L159.67,338.14 L159.76,335.11 L159.84,332.14 L159.92,329.25 L159.99,326.38 L160.06,323.52 L160.13,320.65 L160.19,317.79 L160.25,314.92 L160.31,312.06 L160.38,309.20 L160.44,306.33 L160.51,303.47 L160.58,300.60 L160.66,297.71 L160.74,294.76 L160.83,291.76 L160.91,288.74 L161.00,285.73 L161.09,282.75 L161.18,279.84 L161.26,277.00 L161.35,274.27 L161.44,271.68 L161.53,269.23 L161.61,266.69 L161.70,264.05 L161.79,261.40 L161.88,258.82 L161.96,256.40 L162.05,254.22 L162.14,252.38 L162.22,250.95 L162.30,250.03 L162.39,249.69 L162.47,250.03 L162.55,251.01 L162.62,252.53 L162.70,254.51 L162.78,256.84 L162.85,259.42 L162.93,262.17 L163.00,264.99 L163.08,267.77 L163.15,270.43 L163.23,272.88 L163.31,275.29 L163.39,277.71 L163.47,280.16 L163.55,282.67 L163.64,285.24 L163.72,287.89 L163.79,290.64 L163.86,293.51 L163.93,296.51 L163.99,299.66 L164.05,303.01 L164.10,306.59 L164.14,310.35 L164.18,314.25 L164.21,318.25 L164.25,322.28 L164.28,326.31 L164.31,330.30 L164.34,334.18 L164.38,337.92 L164.42,341.48 L164.46,344.98 L164.49,348.43 L164.53,351.84 L164.57,355.19 L164.61,358.48 L164.65,361.70 L164.69,364.86 L164.73,367.94 L164.76,370.94 L164.80,373.85 L164.83,376.66 L164.86,379.34 L164.89,381.93 L164.92,384.44 L164.95,386.88 L164.98,389.28 L165.01,391.64 L165.04,393.99 L165.06,396.35 L165.09,398.73 L165.11,401.17 L165.14,403.76 L165.16,406.46 L165.18,409.21 L165.20,411.95 L165.22,414.62 L165.24,417.16 L165.26,419.50 L165.28,421.59 L165.29,423.36 L165.30,424.75" fill="none" stroke="#0000ff" stroke-width="1.12" stroke-linejoin="round"/>
<path d="M246.50,424.72 L246.97,424.71 L247.45,424.70 L247.92,424.68 L248.40,424.66 L248.87,424.64 L249.34,424.61 L249.82,424.57 L250.29,424.53 L250.77,424.47 L251.24,424.40 L251.71,424.31 L252.19,424.20 L252.66,424.07 L253.14,423.92 L253.61,423.73 L254.08,423.50 L254.56,423.24 L255.03,422.92 L255.51,422.55 L255.98,422.11 L256.45,421.60 L256.93,421.01 L257.40,420.33 L257.87,419.55 L258.35,418.66 L258.82,417.64 L259.30,416.50 L259.77,415.22 L260.24,413.78 L260.72,412.19 L261.19,410.43 L261.67,408.50 L262.14,406.39 L262.61,404.10 L263.09,401.63 L263.56,398.98 L264.04,396.16 L264.51,393.17 L264.98,390.03 L265.46,386.74 L265.93,383.34 L266.41,379.83 L266.88,376.24 L267.35,372.60 L267.83,368.94 L268.30,365.30 L268.78,361.70 L269.25,358.18 L269.72,354.79 L270.20,351.56 L270.67,348.52 L271.15,345.71 L271.62,343.17 L272.09,340.93 L272.57,339.01 L273.04,337.45 L273.52,336.26 L273.99,335.46 L274.46,335.05 L274.94,335.05 L275.41,335.46 L275.88,336.26 L276.36,337.45 L276.83,339.01 L277.31,340.93 L277.78,343.17 L278.25,345.71 L278.73,348.52 L279.20,351.56 L279.68,354.79 L280.15,358.18 L280.62,361.70 L281.10,365.30 L281.57,368.94 L282.05,372.60 L282.52,376.24 L282.99,379.83 L283.47,383.34 L283.94,386.74 L284.42,390.03 L284.89,393.17 L285.36,396.16 L285.84,398.98 L286.31,401.63 L286.79,404.10 L287.26,406.39 L287.73,408.50 L288.21,410.43 L288.68,412.19 L289.16,413.78 L289.63,415.22 L290.10,416.50 L290.58,417.64 L291.05,418.66 L291.53,419.55 L292.00,420.33 L292.47,421.01 L292.95,421.60 L293.42,422.11 L293.89,422.55 L294.37,422.92 L294.84,423.24 L295.32,423.50 L295.79,423.73 L296.26,423.92 L296.74,424.07 L297.21,424.20 L297.69,424.31 L298.16,424.40 L298.63,424.47 L299.11,424.53 L299.58,424.57 L300.06,424.61 L300.53,424.64 L301.00,424.66 L301.48,424.68 L301.95,424.70 L302.43,424.71 L302.90,424.72" fill="none" stroke="#ff0000" stroke-width="1.0" stroke-linejoin="round"/>
<path d="M252.90,424.69 L253.27,424.68 L253.65,424.66 L254.02,424.64 L254.40,424.62 L254.77,424.59 L255.15,424.56 L255.52,424.52 L255.90,424.48 L256.27,424.43 L256.65,424.36 L257.02,424.29 L257.40,424.20 L257.77,424.10 L258.15,423.98 L258.52,423.85 L258.90,423.69 L259.27,423.50 L259.65,423.29 L260.02,423.05 L260.40,422.77 L260.77,422.45 L261.15,422.09 L261.52,421.68 L261.90,421.21 L262.27,420.68 L262.65,420.08 L263.02,419.41 L263.40,418.66 L263.77,417.82 L264.15,416.88 L264.52,415.85 L264.89,414.70 L265.27,413.43 L265.64,412.03 L266.02,410.49 L266.39,408.81 L266.77,406.98 L267.14,404.98 L267.52,402.82 L267.89,400.49 L268.27,397.97 L268.64,395.26 L269.02,392.37 L269.39,389.28 L269.77,385.99 L270.14,382.51 L270.52,378.83 L270.89,374.95 L271.27,370.89 L271.64,366.64 L272.02,362.21 L272.39,357.62 L272.77,352.87 L273.14,347.98 L273.52,342.96 L273.89,337.84 L274.27,332.63 L274.64,327.35 L275.02,322.03 L275.39,316.70 L275.77,311.37 L276.15,306.09 L276.53,300.87 L276.91,295.75 L277.30,290.76 L277.68,285.92 L278.08,281.28 L278.47,276.85 L278.88,272.67 L279.28,268.78 L279.69,265.18 L280.11,261.92 L280.53,259.01 L280.95,256.47 L281.36,254.32 L281.77,252.59 L282.18,251.28 L282.58,250.40 L282.96,249.96 L283.34,249.96 L283.70,250.40 L284.05,251.28 L284.40,252.59 L284.74,254.32 L285.07,256.47 L285.40,259.01 L285.73,261.92 L286.07,265.18 L286.40,268.78 L286.75,272.67 L287.10,276.85 L287.45,281.28 L287.81,285.92 L288.17,290.76 L288.53,295.75 L288.90,300.87 L289.27,306.09 L289.64,311.37 L290.01,316.70 L290.39,322.03 L290.76,327.35 L291.13,332.63 L291.51,337.84 L291.88,342.96 L292.26,347.98 L292.63,352.87 L293.01,357.62 L293.38,362.21 L293.76,366.64 L294.13,370.89 L294.51,374.95 L294.88,378.83 L295.26,382.51 L295.63,385.99 L296.01,389.28 L296.38,392.37 L296.76,395.26 L297.13,397.97 L297.51,400.49 L297.88,402.82 L298.26,404.98 L298.63,406.98 L299.01,408.81 L299.38,410.49 L299.76,412.03 L300.13,413.43 L300.51,414.70 L300.88,415.85 L301.25,416.88 L301.63,417.82 L302.00,418.66 L302.38,419.41 L302.75,420.08 L303.13,420.68 L303.50,421.21 L303.88,421.68 L304.25,422.09 L304.63,422.45 L305.00,422.77 L305.38,423.05 L305.75,423.29 L306.13,423.50 L306.50,423.69 L306.88,423.85 L307.25,423.98 L307.63,424.10 L308.00,424.20 L308.38,424.29 L308.75,424.36 L309.13,424.43 L309.50,424.48 L309.88,424.52 L310.25,424.56 L310.63,424.59 L311.00,424.62 L311.38,424.64 L311.75,424.66 L312.13,424.68 L312.50,424.69" fill="none" stroke="#0000ff" stroke-width="1.12" stroke-linejoin="round"/>
<path d="M310.70,424.72 L311.20,424.71 L311.69,424.70 L312.19,424.69 L312.69,424.67 L313.19,424.64 L313.68,424.62 L314.18,424.58 L314.68,424.53 L315.18,424.48 L315.67,424.41 L316.17,424.32 L316.67,424.22 L317.17,424.09 L317.66,423.94 L318.16,423.76 L318.66,423.54 L319.16,423.28 L319.65,422.98 L320.15,422.62 L320.65,422.19 L321.15,421.70 L321.64,421.13 L322.14,420.47 L322.64,419.72 L323.14,418.85 L323.63,417.87 L324.13,416.77 L324.63,415.52 L325.13,414.14 L325.62,412.60 L326.12,410.89 L326.62,409.02 L327.12,406.98 L327.61,404.77 L328.11,402.38 L328.61,399.82 L329.11,397.08 L329.60,394.19 L330.10,391.15 L330.60,387.97 L331.10,384.67 L331.59,381.28 L332.09,377.81 L332.59,374.28 L333.09,370.75 L333.58,367.22 L334.08,363.74 L334.58,360.34 L335.08,357.05 L335.57,353.92 L336.07,350.98 L336.57,348.27 L337.07,345.81 L337.56,343.64 L338.06,341.78 L338.56,340.27 L339.06,339.12 L339.55,338.34 L340.05,337.95 L340.55,337.95 L341.05,338.34 L341.54,339.12 L342.04,340.27 L342.54,341.78 L343.04,343.64 L343.53,345.81 L344.03,348.27 L344.53,350.98 L345.03,353.92 L345.52,357.05 L346.02,360.34 L346.52,363.74 L347.02,367.22 L347.51,370.75 L348.01,374.28 L348.51,377.81 L349.01,381.28 L349.50,384.67 L350.00,387.97 L350.50,391.15 L351.00,394.19 L351.49,397.08 L351.99,399.82 L352.49,402.38 L352.99,404.77 L353.48,406.98 L353.98,409.02 L354.48,410.89 L354.98,412.60 L355.47,414.14 L355.97,415.52 L356.47,416.77 L356.97,417.87 L357.46,418.85 L357.96,419.72 L358.46,420.47 L358.96,421.13 L359.45,421.70 L359.95,422.19 L360.45,422.62 L360.95,422.98 L361.44,423.28 L361.94,423.54 L362.44,423.76 L362.94,423.94 L363.43,424.09 L363.93,424.22 L364.43,424.32 L364.93,424.41 L365.42,424.48 L365.92,424.53 L366.42,424.58 L366.92,424.62 L367.41,424.64 L367.91,424.67 L368.41,424.69 L368.91,424.70 L369.40,424.71 L369.90,424.72" fill="none" stroke="#ff0000" stroke-width="1.0" stroke-linejoin="round"/>
</g>
<g>
<line x1="47.0" y1="2.00" x2="47.0" y2="10.90" stroke="#3a3a3a" stroke-width="1.6"/>
<line x1="47.0" y1="18.43" x2="47.0" y2="27.33" stroke="#3a3a3a" stroke-width="1.6"/>
<line x1="47.0" y1="34.86" x2="47.0" y2="43.76" stroke="#3a3a3a" stroke-width="1.6"/>
<line x1="47.0" y1="51.29" x2="47.0" y2="60.19" stroke="#3a3a3a" stroke-width="1.6"/>
<line x1="47.0" y1="67.72" x2="47.0" y2="76.62" stroke="#3a3a3a" stroke-width="1.6"/>
<line x1="47.0" y1="84.15" x2="47.0" y2="93.05" stroke="#3a3a3a" stroke-width="1.6"/>
<line x1="47.0" y1="100.58" x2="47.0" y2="109.48" stroke="#3a3a3a" stroke-width="1.6"/>
<line x1="47.0" y1="117.01" x2="47.0" y2="125.91" stroke="#3a3a3a" stroke-width="1.6"/>
<line x1="47.0" y1="133.44" x2="47.0" y2="142.34" stroke="#3a3a3a" stroke-width="1.6"/>
<line x1="47.0" y1="149.87" x2="47.0" y2="158.77" stroke="#3a3a3a" stroke-width="1.6"/>
<line x1="47.0" y1="166.30" x2="47.0" y2="175.20" stroke="#3a3a3a" stroke-width="1.6"/>
<line x1="47.0" y1="182.73" x2="47.0" y2="191.00" stroke="#3a3a3a" stroke-width="1.6"/>
<line x1="296.4" y1="2.00" x2="296.4" y2="10.90" stroke="#222" stroke-width="1.2"/>
<line x1="296.4" y1="18.43" x2="296.4" y2="27.33" stroke="#222" stroke-width="1.2"/>
<line x1="296.4" y1="34.86" x2="296.4" y2="43.76" stroke="#222" stroke-width="1.2"/>
<line x1="296.4" y1="51.29" x2="296.4" y2="60.19" stroke="#222" stroke-width="1.2"/>
<line x1="296.4" y1="67.72" x2="296.4" y2="76.62" stroke="#222" stroke-width="1.2"/>
<line x1="296.4" y1="84.15" x2="296.4" y2="93.05" stroke="#222" stroke-width="1.2"/>
<line x1="296.4" y1="100.58" x2="296.4" y2="109.48" stroke="#222" stroke-width="1.2"/>
<line x1="296.4" y1="117.01" x2="296.4" y2="125.91" stroke="#222" stroke-width="1.2"/>
<line x1="296.4" y1="133.44" x2="296.4" y2="142.34" stroke="#222" stroke-width="1.2"/>
<line x1="296.4" y1="149.87" x2="296.4" y2="158.77" stroke="#222" stroke-width="1.2"/>
<line x1="296.4" y1="166.30" x2="296.4" y2="175.20" stroke="#222" stroke-width="1.2"/>
<line x1="296.4" y1="182.73" x2="296.4" y2="191.00" stroke="#222" stroke-width="1.2"/>
<line x1="514.9" y1="2.00" x2="514.9" y2="10.90" stroke="#5848ee" stroke-width="1.7"/>
<line x1="514.9" y1="18.43" x2="514.9" y2="27.33" stroke="#5848ee" stroke-width="1.7"/>
<line x1="514.9" y1="34.86" x2="514.9" y2="43.76" stroke="#5848ee" stroke-width="1.7"/>
<line x1="514.9" y1="51.29" x2="514.9" y2="60.19" stroke="#5848ee" stroke-width="1.7"/>
<line x1="514.9" y1="67.72" x2="514.9" y2="76.62" stroke="#5848ee" stroke-width="1.7"/>
<line x1="514.9" y1="84.15" x2="514.9" y2="93.05" stroke="#5848ee" stroke-width="1.7"/>
<line x1="514.9" y1="100.58" x2="514.9" y2="109.48" stroke="#5848ee" stroke-width="1.7"/>
<line x1="514.9" y1="117.01" x2="514.9" y2="125.91" stroke="#5848ee" stroke-width="1.7"/>
<line x1="514.9" y1="133.44" x2="514.9" y2="142.34" stroke="#5848ee" stroke-width="1.7"/>
<line x1="514.9" y1="149.87" x2="514.9" y2="158.77" stroke="#5848ee" stroke-width="1.7"/>
<line x1="514.9" y1="166.30" x2="514.9" y2="175.20" stroke="#5848ee" stroke-width="1.7"/>
<line x1="514.9" y1="182.73" x2="514.9" y2="191.00" stroke="#5848ee" stroke-width="1.7"/>
<line x1="86.9" y1="236.00" x2="86.9" y2="244.90" stroke="#5848ee" stroke-width="1.7"/>
<line x1="86.9" y1="252.60" x2="86.9" y2="261.50" stroke="#5848ee" stroke-width="1.7"/>
<line x1="86.9" y1="269.20" x2="86.9" y2="278.10" stroke="#5848ee" stroke-width="1.7"/>
<line x1="86.9" y1="285.80" x2="86.9" y2="294.70" stroke="#5848ee" stroke-width="1.7"/>
<line x1="86.9" y1="302.40" x2="86.9" y2="311.30" stroke="#5848ee" stroke-width="1.7"/>
<line x1="86.9" y1="319.00" x2="86.9" y2="327.90" stroke="#5848ee" stroke-width="1.7"/>
<line x1="86.9" y1="335.60" x2="86.9" y2="344.50" stroke="#5848ee" stroke-width="1.7"/>
<line x1="86.9" y1="352.20" x2="86.9" y2="361.10" stroke="#5848ee" stroke-width="1.7"/>
<line x1="86.9" y1="368.80" x2="86.9" y2="377.70" stroke="#5848ee" stroke-width="1.7"/>
<line x1="86.9" y1="385.40" x2="86.9" y2="394.30" stroke="#5848ee" stroke-width="1.7"/>
<line x1="86.9" y1="402.00" x2="86.9" y2="410.90" stroke="#5848ee" stroke-width="1.7"/>
<line x1="86.9" y1="418.60" x2="86.9" y2="425.50" stroke="#5848ee" stroke-width="1.7"/>
<line x1="344.5" y1="236.00" x2="344.5" y2="244.90" stroke="#222" stroke-width="0.9"/>
<line x1="344.5" y1="252.60" x2="344.5" y2="261.50" stroke="#222" stroke-width="0.9"/>
<line x1="344.5" y1="269.20" x2="344.5" y2="278.10" stroke="#222" stroke-width="0.9"/>
<line x1="344.5" y1="285.80" x2="344.5" y2="294.70" stroke="#222" stroke-width="0.9"/>
<line x1="344.5" y1="302.40" x2="344.5" y2="311.30" stroke="#222" stroke-width="0.9"/>
<line x1="344.5" y1="319.00" x2="344.5" y2="327.90" stroke="#222" stroke-width="0.9"/>
<line x1="344.5" y1="335.60" x2="344.5" y2="344.50" stroke="#222" stroke-width="0.9"/>
<line x1="344.5" y1="352.20" x2="344.5" y2="361.10" stroke="#222" stroke-width="0.9"/>
<line x1="344.5" y1="368.80" x2="344.5" y2="377.70" stroke="#222" stroke-width="0.9"/>
<line x1="344.5" y1="385.40" x2="344.5" y2="394.30" stroke="#222" stroke-width="0.9"/>
<line x1="344.5" y1="402.00" x2="344.5" y2="410.90" stroke="#222" stroke-width="0.9"/>
<line x1="344.5" y1="418.60" x2="344.5" y2="425.50" stroke="#222" stroke-width="0.9"/>
</g>
<g>
<line x1="25.50" y1="191.0" x2="25.50" y2="185.00" stroke="#111" stroke-width="1.15"/>
<line x1="68.66" y1="191.0" x2="68.66" y2="185.00" stroke="#111" stroke-width="1.15"/>
<line x1="111.82" y1="191.0" x2="111.82" y2="185.00" stroke="#111" stroke-width="1.15"/>
<line x1="154.98" y1="191.0" x2="154.98" y2="185.00" stroke="#111" stroke-width="1.15"/>
<line x1="47.08" y1="191.0" x2="47.08" y2="187.70" stroke="#111" stroke-width="1.15"/>
<line x1="90.24" y1="191.0" x2="90.24" y2="187.70" stroke="#111" stroke-width="1.15"/>
<line x1="133.40" y1="191.0" x2="133.40" y2="187.70" stroke="#111" stroke-width="1.15"/>
<line x1="176.56" y1="191.0" x2="176.56" y2="187.70" stroke="#111" stroke-width="1.15"/>
<text x="25.50" y="205.60" font-size="11.3" text-anchor="middle">2.344</text>
<text x="68.66" y="205.60" font-size="11.3" text-anchor="middle">2.346</text>
<text x="111.82" y="205.60" font-size="11.3" text-anchor="middle">2.348</text>
<text x="154.98" y="205.60" font-size="11.3" text-anchor="middle">2.35</text>
<line x1="228.50" y1="191.0" x2="228.50" y2="185.00" stroke="#111" stroke-width="1.15"/>
<line x1="270.80" y1="191.0" x2="270.80" y2="185.00" stroke="#111" stroke-width="1.15"/>
<line x1="313.10" y1="191.0" x2="313.10" y2="185.00" stroke="#111" stroke-width="1.15"/>
<line x1="355.40" y1="191.0" x2="355.40" y2="185.00" stroke="#111" stroke-width="1.15"/>
<line x1="236.96" y1="191.0" x2="236.96" y2="187.70" stroke="#111" stroke-width="1.15"/>
<line x1="245.42" y1="191.0" x2="245.42" y2="187.70" stroke="#111" stroke-width="1.15"/>
<line x1="253.88" y1="191.0" x2="253.88" y2="187.70" stroke="#111" stroke-width="1.15"/>
<line x1="262.34" y1="191.0" x2="262.34" y2="187.70" stroke="#111" stroke-width="1.15"/>
<line x1="279.26" y1="191.0" x2="279.26" y2="187.70" stroke="#111" stroke-width="1.15"/>
<line x1="287.72" y1="191.0" x2="287.72" y2="187.70" stroke="#111" stroke-width="1.15"/>
<line x1="296.18" y1="191.0" x2="296.18" y2="187.70" stroke="#111" stroke-width="1.15"/>
<line x1="304.64" y1="191.0" x2="304.64" y2="187.70" stroke="#111" stroke-width="1.15"/>
<line x1="321.56" y1="191.0" x2="321.56" y2="187.70" stroke="#111" stroke-width="1.15"/>
<line x1="330.02" y1="191.0" x2="330.02" y2="187.70" stroke="#111" stroke-width="1.15"/>
<line x1="338.48" y1="191.0" x2="338.48" y2="187.70" stroke="#111" stroke-width="1.15"/>
<line x1="346.94" y1="191.0" x2="346.94" y2="187.70" stroke="#111" stroke-width="1.15"/>
<line x1="363.86" y1="191.0" x2="363.86" y2="187.70" stroke="#111" stroke-width="1.15"/>
<line x1="372.32" y1="191.0" x2="372.32" y2="187.70" stroke="#111" stroke-width="1.15"/>
<line x1="380.78" y1="191.0" x2="380.78" y2="187.70" stroke="#111" stroke-width="1.15"/>
<text x="228.50" y="205.60" font-size="11.3" text-anchor="middle">0</text>
<text x="270.80" y="205.60" font-size="11.3" text-anchor="middle">10</text>
<text x="313.10" y="205.60" font-size="11.3" text-anchor="middle">20</text>
<text x="355.40" y="205.60" font-size="11.3" text-anchor="middle">30</text>
<line x1="476.70" y1="191.0" x2="476.70" y2="185.00" stroke="#111" stroke-width="1.15"/>
<line x1="543.40" y1="191.0" x2="543.40" y2="185.00" stroke="#111" stroke-width="1.15"/>
<line x1="436.68" y1="191.0" x2="436.68" y2="187.70" stroke="#111" stroke-width="1.15"/>
<line x1="450.02" y1="191.0" x2="450.02" y2="187.70" stroke="#111" stroke-width="1.15"/>
<line x1="463.36" y1="191.0" x2="463.36" y2="187.70" stroke="#111" stroke-width="1.15"/>
<line x1="490.04" y1="191.0" x2="490.04" y2="187.70" stroke="#111" stroke-width="1.15"/>
<line x1="503.38" y1="191.0" x2="503.38" y2="187.70" stroke="#111" stroke-width="1.15"/>
<line x1="516.72" y1="191.0" x2="516.72" y2="187.70" stroke="#111" stroke-width="1.15"/>
<line x1="530.06" y1="191.0" x2="530.06" y2="187.70" stroke="#111" stroke-width="1.15"/>
<line x1="556.74" y1="191.0" x2="556.74" y2="187.70" stroke="#111" stroke-width="1.15"/>
<line x1="570.08" y1="191.0" x2="570.08" y2="187.70" stroke="#111" stroke-width="1.15"/>
<line x1="583.42" y1="191.0" x2="583.42" y2="187.70" stroke="#111" stroke-width="1.15"/>
<text x="477.00" y="205.60" font-size="11.3" text-anchor="middle">100</text>
<text x="543.70" y="205.60" font-size="11.3" text-anchor="middle">150</text>
<line x1="15.40" y1="425.5" x2="15.40" y2="419.50" stroke="#111" stroke-width="1.15"/>
<line x1="57.30" y1="425.5" x2="57.30" y2="419.50" stroke="#111" stroke-width="1.15"/>
<line x1="99.20" y1="425.5" x2="99.20" y2="419.50" stroke="#111" stroke-width="1.15"/>
<line x1="141.10" y1="425.5" x2="141.10" y2="419.50" stroke="#111" stroke-width="1.15"/>
<line x1="23.78" y1="425.5" x2="23.78" y2="422.20" stroke="#111" stroke-width="1.15"/>
<line x1="32.16" y1="425.5" x2="32.16" y2="422.20" stroke="#111" stroke-width="1.15"/>
<line x1="40.54" y1="425.5" x2="40.54" y2="422.20" stroke="#111" stroke-width="1.15"/>
<line x1="48.92" y1="425.5" x2="48.92" y2="422.20" stroke="#111" stroke-width="1.15"/>
<line x1="65.68" y1="425.5" x2="65.68" y2="422.20" stroke="#111" stroke-width="1.15"/>
<line x1="74.06" y1="425.5" x2="74.06" y2="422.20" stroke="#111" stroke-width="1.15"/>
<line x1="82.44" y1="425.5" x2="82.44" y2="422.20" stroke="#111" stroke-width="1.15"/>
<line x1="90.82" y1="425.5" x2="90.82" y2="422.20" stroke="#111" stroke-width="1.15"/>
<line x1="107.58" y1="425.5" x2="107.58" y2="422.20" stroke="#111" stroke-width="1.15"/>
<line x1="115.96" y1="425.5" x2="115.96" y2="422.20" stroke="#111" stroke-width="1.15"/>
<line x1="124.34" y1="425.5" x2="124.34" y2="422.20" stroke="#111" stroke-width="1.15"/>
<line x1="132.72" y1="425.5" x2="132.72" y2="422.20" stroke="#111" stroke-width="1.15"/>
<line x1="149.48" y1="425.5" x2="149.48" y2="422.20" stroke="#111" stroke-width="1.15"/>
<line x1="157.86" y1="425.5" x2="157.86" y2="422.20" stroke="#111" stroke-width="1.15"/>
<line x1="166.24" y1="425.5" x2="166.24" y2="422.20" stroke="#111" stroke-width="1.15"/>
<line x1="174.62" y1="425.5" x2="174.62" y2="422.20" stroke="#111" stroke-width="1.15"/>
<text x="15.40" y="439.80" font-size="11.3" text-anchor="middle">−100</text>
<text x="57.30" y="439.80" font-size="11.3" text-anchor="middle">−50</text>
<text x="99.20" y="439.80" font-size="11.3" text-anchor="middle">0</text>
<text x="141.10" y="439.80" font-size="11.3" text-anchor="middle">50</text>
<line x1="236.00" y1="425.5" x2="236.00" y2="419.50" stroke="#111" stroke-width="1.15"/>
<line x1="271.07" y1="425.5" x2="271.07" y2="419.50" stroke="#111" stroke-width="1.15"/>
<line x1="306.15" y1="425.5" x2="306.15" y2="419.50" stroke="#111" stroke-width="1.15"/>
<line x1="341.23" y1="425.5" x2="341.23" y2="419.50" stroke="#111" stroke-width="1.15"/>
<line x1="376.30" y1="425.5" x2="376.30" y2="419.50" stroke="#111" stroke-width="1.15"/>
<line x1="228.99" y1="425.5" x2="228.99" y2="422.20" stroke="#111" stroke-width="1.15"/>
<line x1="243.01" y1="425.5" x2="243.01" y2="422.20" stroke="#111" stroke-width="1.15"/>
<line x1="250.03" y1="425.5" x2="250.03" y2="422.20" stroke="#111" stroke-width="1.15"/>
<line x1="257.05" y1="425.5" x2="257.05" y2="422.20" stroke="#111" stroke-width="1.15"/>
<line x1="264.06" y1="425.5" x2="264.06" y2="422.20" stroke="#111" stroke-width="1.15"/>
<line x1="278.09" y1="425.5" x2="278.09" y2="422.20" stroke="#111" stroke-width="1.15"/>
<line x1="285.11" y1="425.5" x2="285.11" y2="422.20" stroke="#111" stroke-width="1.15"/>
<line x1="292.12" y1="425.5" x2="292.12" y2="422.20" stroke="#111" stroke-width="1.15"/>
<line x1="299.13" y1="425.5" x2="299.13" y2="422.20" stroke="#111" stroke-width="1.15"/>
<line x1="313.17" y1="425.5" x2="313.17" y2="422.20" stroke="#111" stroke-width="1.15"/>
<line x1="320.18" y1="425.5" x2="320.18" y2="422.20" stroke="#111" stroke-width="1.15"/>
<line x1="327.19" y1="425.5" x2="327.19" y2="422.20" stroke="#111" stroke-width="1.15"/>
<line x1="334.21" y1="425.5" x2="334.21" y2="422.20" stroke="#111" stroke-width="1.15"/>
<line x1="348.24" y1="425.5" x2="348.24" y2="422.20" stroke="#111" stroke-width="1.15"/>
<line x1="355.25" y1="425.5" x2="355.25" y2="422.20" stroke="#111" stroke-width="1.15"/>
<line x1="362.27" y1="425.5" x2="362.27" y2="422.20" stroke="#111" stroke-width="1.15"/>
<line x1="369.28" y1="425.5" x2="369.28" y2="422.20" stroke="#111" stroke-width="1.15"/>
<line x1="383.31" y1="425.5" x2="383.31" y2="422.20" stroke="#111" stroke-width="1.15"/>
<text x="236.00" y="439.80" font-size="11.3" text-anchor="middle">150</text>
<text x="271.07" y="439.80" font-size="11.3" text-anchor="middle">200</text>
<text x="306.15" y="439.80" font-size="11.3" text-anchor="middle">250</text>
<text x="341.23" y="439.80" font-size="11.3" text-anchor="middle">300</text>
<text x="376.30" y="439.80" font-size="11.3" text-anchor="middle">350</text>
</g>
<g>
<g class="tt">
<text x="22.3" y="10.6" font-size="12.5">t</text>
<text x="27.3" y="14.6" font-size="9.6">c</text>
<text x="38.8" y="10.6" font-size="12.5">(s)</text>
<text x="329.2" y="10.5" font-size="10.5">d</text>
<text x="336.4" y="14.6" font-size="8.3">L</text>
<text x="347.7" y="10.6" font-size="12.4">(</text>
<text x="352" y="10.5" font-size="10.5" textLength="22.4" lengthAdjust="spacingAndGlyphs">Mpc</text>
<text x="375.4" y="10.6" font-size="12.4">)</text>
<text x="513" y="10.5" font-size="11.8" textLength="75.5" lengthAdjust="spacingAndGlyphs">acos(J·N) (°)</text>
<text x="21.3" y="244.6" font-size="12.6" font-style="italic">ψ</text>
<text x="30" y="249" font-size="8.3" font-family="'Liberation Sans','DejaVu Sans',sans-serif" font-weight="bold">J0</text>
<text x="45.8" y="244.8" font-size="12.5" textLength="14.2" lengthAdjust="spacingAndGlyphs">(°)</text>
<text x="347.3" y="244.4" font-size="11.6" font-style="italic">φ</text>
<text x="354.6" y="248.8" font-size="9.6">c</text>
<text x="366.6" y="244.8" font-size="12.5" textLength="13.9" lengthAdjust="spacingAndGlyphs">(°)</text>
</g>
</g>
</svg>
</body></html>
